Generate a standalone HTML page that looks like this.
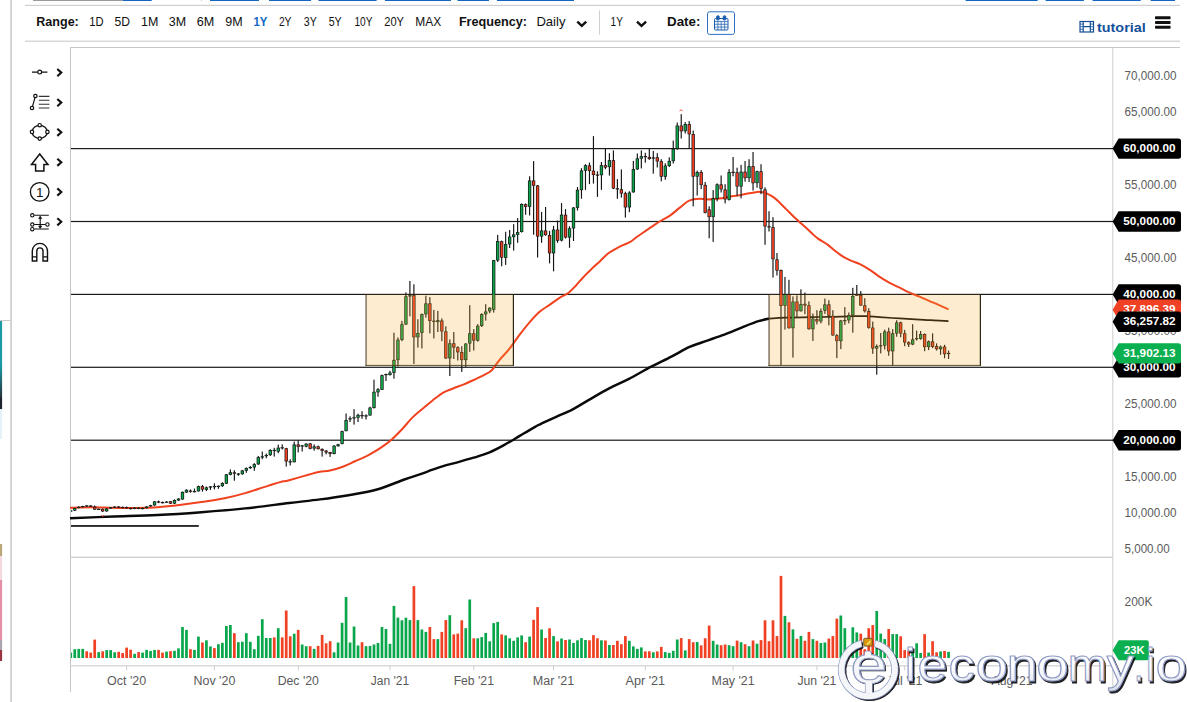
<!DOCTYPE html>
<html><head><meta charset="utf-8"><title>chart</title>
<style>
html,body{margin:0;padding:0;background:#fff;}
body{width:1187px;height:702px;overflow:hidden;position:relative;font-family:"Liberation Sans",sans-serif;}
svg{position:absolute;left:0;top:0;}
text{font-family:"Liberation Sans",sans-serif;}
</style></head><body>
<svg width="1187" height="702" viewBox="0 0 1187 702">
<defs>
<filter id="wsh" x="-5%" y="-20%" width="110%" height="140%"><feGaussianBlur stdDeviation="0.55"/></filter>
<linearGradient id="wg" x1="0" y1="0" x2="0" y2="1"><stop offset="0" stop-color="#ffffff"/><stop offset="0.55" stop-color="#fdfdff"/><stop offset="1" stop-color="#d9deea"/></linearGradient>
</defs>
<rect x="0" y="0" width="1187" height="702" fill="#ffffff"/>

<linearGradient id="lg1" x1="0" y1="0" x2="0" y2="1"><stop offset="0" stop-color="#1b9aa3"/><stop offset="1" stop-color="#27303c"/></linearGradient>
<rect x="0" y="321" width="2.1" height="46" fill="#1b9aa3"/>
<rect x="0" y="366" width="2.1" height="32" fill="url(#lg1)"/>
<rect x="0" y="398" width="2.1" height="11" fill="#1d232c"/>
<rect x="0" y="409" width="2.1" height="30" fill="#e4f1f7"/>
<rect x="0" y="320" width="10.5" height="1" fill="#c9c9c9"/>
<rect x="0" y="544" width="2.1" height="12" fill="#b9a77a"/>
<rect x="0" y="556" width="2.1" height="24" fill="#f3d9dd"/>
<rect x="0" y="580" width="2.1" height="60" fill="#e58da6"/>
<rect x="0" y="640" width="2.1" height="10" fill="#a9a4ad"/>
<rect x="0" y="650" width="2.1" height="11" fill="#9c3440"/>
<rect x="10.3" y="0" width="1.5" height="702" fill="#c6c6c6"/>
<rect x="33" y="0" width="90" height="1" fill="#9a9a9a"/>
<rect x="123" y="0" width="28.7" height="1" fill="#1565c0"/>
<rect x="210" y="0" width="49.0" height="1" fill="#1565c0"/>
<rect x="269" y="0" width="42.0" height="1" fill="#1565c0"/>
<rect x="318.5" y="0" width="58.1" height="1" fill="#1565c0"/>
<rect x="385" y="0" width="66.0" height="1" fill="#1565c0"/>
<rect x="457.5" y="0" width="31.5" height="1" fill="#1565c0"/>
<rect x="497" y="0" width="77.0" height="1" fill="#1565c0"/>
<rect x="965.6" y="0" width="72.0" height="1" fill="#1565c0"/>
<rect x="1045.6" y="0" width="38.3" height="1" fill="#1565c0"/>
<rect x="1092.6" y="0" width="48.1" height="1" fill="#1565c0"/>
<rect x="1150.7" y="0" width="24.3" height="1" fill="#1565c0"/>
<rect x="201" y="0" width="1" height="1" fill="#cccccc"/>
<rect x="25" y="4.8" width="1155" height="1.2" fill="#cfcfcf"/>
<rect x="25" y="40.6" width="1155" height="1.2" fill="#cfcfcf"/>
<text x="36.3" y="26.1" font-size="13" font-weight="bold" fill="#111" textLength="42.5" lengthAdjust="spacingAndGlyphs" text-anchor="start">Range:</text>
<text x="89.3" y="26.1" font-size="13" fill="#111" textLength="14.3" lengthAdjust="spacingAndGlyphs" text-anchor="start">1D</text>
<text x="114.5" y="26.1" font-size="13" fill="#111" textLength="15.5" lengthAdjust="spacingAndGlyphs" text-anchor="start">5D</text>
<text x="141.0" y="26.1" font-size="13" fill="#111" textLength="17.3" lengthAdjust="spacingAndGlyphs" text-anchor="start">1M</text>
<text x="168.8" y="26.1" font-size="13" fill="#111" textLength="17.3" lengthAdjust="spacingAndGlyphs" text-anchor="start">3M</text>
<text x="196.8" y="26.1" font-size="13" fill="#111" textLength="17.5" lengthAdjust="spacingAndGlyphs" text-anchor="start">6M</text>
<text x="225.2" y="26.1" font-size="13" fill="#111" textLength="17.4" lengthAdjust="spacingAndGlyphs" text-anchor="start">9M</text>
<text x="253.5" y="26.1" font-size="13" font-weight="bold" fill="#1467c4" textLength="13.9" lengthAdjust="spacingAndGlyphs" text-anchor="start">1Y</text>
<text x="278.9" y="26.1" font-size="13" fill="#111" textLength="12.6" lengthAdjust="spacingAndGlyphs" text-anchor="start">2Y</text>
<text x="303.8" y="26.1" font-size="13" fill="#111" textLength="13.0" lengthAdjust="spacingAndGlyphs" text-anchor="start">3Y</text>
<text x="328.7" y="26.1" font-size="13" fill="#111" textLength="13.0" lengthAdjust="spacingAndGlyphs" text-anchor="start">5Y</text>
<text x="354.4" y="26.1" font-size="13" fill="#111" textLength="18.0" lengthAdjust="spacingAndGlyphs" text-anchor="start">10Y</text>
<text x="384.2" y="26.1" font-size="13" fill="#111" textLength="19.8" lengthAdjust="spacingAndGlyphs" text-anchor="start">20Y</text>
<text x="415.3" y="26.1" font-size="13" fill="#111" textLength="25.8" lengthAdjust="spacingAndGlyphs" text-anchor="start">MAX</text>
<text x="458.9" y="26.1" font-size="13" font-weight="bold" fill="#111" textLength="68.2" lengthAdjust="spacingAndGlyphs" text-anchor="start">Frequency:</text>
<text x="536.4" y="26.1" font-size="13" fill="#111" textLength="29.1" lengthAdjust="spacingAndGlyphs" text-anchor="start">Daily</text>
<path d="M577.3 21.6 L581.8 25.9 L586.2 21.6" fill="none" stroke="#111" stroke-width="2.4" stroke-linecap="butt" stroke-linejoin="miter"/>
<rect x="599" y="10.4" width="1" height="24.3" fill="#cfcfcf"/>
<text x="610.6" y="26.1" font-size="13" fill="#111" textLength="12.3" lengthAdjust="spacingAndGlyphs" text-anchor="start">1Y</text>
<path d="M637.0 21.6 L641.5 25.9 L646.1 21.6" fill="none" stroke="#111" stroke-width="2.4" stroke-linecap="butt" stroke-linejoin="miter"/>
<text x="667.0" y="26.1" font-size="13" font-weight="bold" fill="#111" textLength="33.4" lengthAdjust="spacingAndGlyphs" text-anchor="start">Date:</text>
<rect x="707.5" y="11.8" width="27" height="22.6" rx="2" ry="2" fill="#fff" stroke="#2a6fc2" stroke-width="1"/>
<g stroke="#1d5fae" fill="none" stroke-width="1"><rect x="714.5" y="18.5" width="13.5" height="11.5" rx="1" fill="#eef3fa"/><path d="M714.5 21.5H728 M717.9 21.5V30 M721.2 21.5V30 M724.6 21.5V30 M714.5 24.3H728 M714.5 27.1H728" stroke-width="0.7"/><rect x="716.6" y="15.8" width="2.6" height="4.2" rx="1" fill="#1d5fae"/><rect x="723.2" y="15.8" width="2.6" height="4.2" rx="1" fill="#1d5fae"/></g>
<g stroke="#14509a" fill="none" stroke-width="1.2"><rect x="1080" y="21.5" width="13.5" height="10.5"/><path d="M1083.2 21.5V32 M1090.3 21.5V32 M1083.2 26.7H1090.3" /><path d="M1080 24.1H1083.2 M1080 26.7H1083.2 M1080 29.3H1083.2 M1090.3 24.1H1093.5 M1090.3 26.7H1093.5 M1090.3 29.3H1093.5" stroke-width="0.8"/></g>
<text x="1097.0" y="31.6" font-size="13.5" font-weight="bold" fill="#14509a" textLength="48.7" lengthAdjust="spacingAndGlyphs" text-anchor="start">tutorial</text>
<rect x="1155" y="16.2" width="15.6" height="3" rx="0.8" fill="#111"/>
<rect x="1155" y="21" width="15.6" height="3" rx="0.8" fill="#111"/>
<rect x="1155" y="25.8" width="15.6" height="3" rx="0.8" fill="#111"/>
<rect x="70" y="47" width="1110" height="1" fill="#c8c8c8"/>
<rect x="70" y="47" width="1" height="645" fill="#c4c4c4"/>
<rect x="1112.3" y="47" width="1" height="645" fill="#cccccc"/>
<rect x="70" y="556.6" width="1043" height="1.4" fill="#cfcfcf"/>
<rect x="70" y="665.2" width="1043" height="1.2" fill="#d0d0d0"/>
<rect x="126.1" y="666" width="1" height="4.5" fill="#cfcfcf"/>
<text x="126.6" y="685" font-size="12" fill="#5a5a5a" text-anchor="middle" textLength="39.2" lengthAdjust="spacingAndGlyphs">Oct '20</text>
<rect x="213.9" y="666" width="1" height="4.5" fill="#cfcfcf"/>
<text x="214.4" y="685" font-size="12" fill="#5a5a5a" text-anchor="middle" textLength="41.8" lengthAdjust="spacingAndGlyphs">Nov '20</text>
<rect x="297.8" y="666" width="1" height="4.5" fill="#cfcfcf"/>
<text x="298.3" y="685" font-size="12" fill="#5a5a5a" text-anchor="middle" textLength="41.3" lengthAdjust="spacingAndGlyphs">Dec '20</text>
<rect x="389.5" y="666" width="1" height="4.5" fill="#cfcfcf"/>
<text x="390.0" y="685" font-size="12" fill="#5a5a5a" text-anchor="middle" textLength="38.3" lengthAdjust="spacingAndGlyphs">Jan '21</text>
<rect x="473.3" y="666" width="1" height="4.5" fill="#cfcfcf"/>
<text x="473.8" y="685" font-size="12" fill="#5a5a5a" text-anchor="middle" textLength="40.3" lengthAdjust="spacingAndGlyphs">Feb '21</text>
<rect x="553.0" y="666" width="1" height="4.5" fill="#cfcfcf"/>
<text x="553.5" y="685" font-size="12" fill="#5a5a5a" text-anchor="middle" textLength="41.3" lengthAdjust="spacingAndGlyphs">Mar '21</text>
<rect x="644.8" y="666" width="1" height="4.5" fill="#cfcfcf"/>
<text x="645.3" y="685" font-size="12" fill="#5a5a5a" text-anchor="middle" textLength="39.6" lengthAdjust="spacingAndGlyphs">Apr '21</text>
<rect x="732.6" y="666" width="1" height="4.5" fill="#cfcfcf"/>
<text x="733.1" y="685" font-size="12" fill="#5a5a5a" text-anchor="middle" textLength="43" lengthAdjust="spacingAndGlyphs">May '21</text>
<rect x="816.4" y="666" width="1" height="4.5" fill="#cfcfcf"/>
<text x="816.9" y="685" font-size="12" fill="#5a5a5a" text-anchor="middle" textLength="39" lengthAdjust="spacingAndGlyphs">Jun '21</text>
<rect x="904.2" y="666" width="1" height="4.5" fill="#cfcfcf"/>
<text x="904.7" y="685" font-size="12" fill="#5a5a5a" text-anchor="middle" textLength="35.5" lengthAdjust="spacingAndGlyphs">Jul '21</text>
<rect x="1011.5" y="666" width="1" height="4.5" fill="#cfcfcf"/>
<text x="1012.0" y="685" font-size="12" fill="#5a5a5a" text-anchor="middle" textLength="41" lengthAdjust="spacingAndGlyphs">Aug '21</text>
<rect x="71" y="148.0" width="1042" height="1.2" fill="#1a1a1a"/>
<rect x="71" y="220.9" width="1042" height="1.2" fill="#1a1a1a"/>
<rect x="71" y="293.8" width="1042" height="1.2" fill="#1a1a1a"/>
<rect x="71" y="366.7" width="1042" height="1.2" fill="#1a1a1a"/>
<rect x="71" y="439.6" width="1042" height="1.2" fill="#1a1a1a"/>
<rect x="71" y="525.1" width="127.8" height="1.7" fill="#111"/>
<path d="M70.0 507.8 C73.7 507.7 84.6 507.3 91.9 507.3 C99.2 507.3 106.5 507.7 113.8 507.8 C121.1 507.9 128.4 508.1 135.7 508.0 C143.0 507.9 150.3 507.8 157.6 507.3 C164.9 506.8 172.2 506.0 179.5 505.1 C186.8 504.2 194.1 503.2 201.4 502.1 C208.7 501.0 216.0 500.1 223.3 498.6 C230.6 497.1 237.9 495.2 245.2 493.1 C252.5 491.0 261.3 487.9 267.2 486.1 C273.1 484.3 276.6 483.1 280.3 482.1 C284.0 481.1 284.0 481.6 289.1 480.2 C294.2 478.8 305.9 475.4 311.0 474.0 C316.1 472.6 316.8 472.4 320.0 471.8 C323.2 471.2 326.2 471.4 330.0 470.5 C333.8 469.6 338.5 468.3 342.8 466.7 C347.1 465.1 351.3 462.9 355.6 461.0 C359.9 459.1 364.2 457.4 368.5 455.1 C372.8 452.8 377.5 450.0 381.3 447.4 C385.1 444.8 388.1 442.7 391.5 439.7 C394.9 436.7 398.4 433.1 401.8 429.5 C405.2 425.9 408.7 421.3 412.1 417.9 C415.5 414.5 418.9 411.9 422.3 409.0 C425.7 406.1 429.2 403.2 432.6 400.5 C436.0 397.8 439.4 394.8 442.8 392.8 C446.2 390.8 449.7 389.9 453.1 388.5 C456.5 387.1 459.9 386.0 463.3 384.6 C466.7 383.2 470.2 381.6 473.6 380.0 C477.0 378.4 480.8 376.7 483.8 375.1 C486.8 373.5 488.9 373.0 491.5 370.5 C494.1 368.0 496.2 363.9 499.2 360.3 C502.2 356.7 506.1 353.0 509.5 348.7 C512.9 344.4 516.3 339.1 519.7 334.6 C523.1 330.1 526.6 325.6 530.0 321.8 C533.4 318.0 536.6 314.5 539.9 311.6 C543.2 308.7 546.6 306.9 549.9 304.6 C553.2 302.3 556.9 299.5 559.9 297.6 C562.9 295.7 565.2 295.3 567.9 293.3 C570.5 291.3 573.1 288.5 575.8 285.7 C578.4 282.9 581.1 279.5 583.8 276.7 C586.5 273.9 589.1 271.2 591.8 268.7 C594.5 266.1 597.1 263.9 599.8 261.4 C602.4 258.9 605.1 255.9 607.7 253.8 C610.4 251.7 613.0 250.3 615.7 248.8 C618.4 247.3 621.4 245.9 623.7 244.8 C626.0 243.7 627.7 243.4 629.7 242.2 C631.7 241.0 633.4 239.5 635.7 237.8 C638.0 236.1 641.0 234.0 643.6 232.2 C646.2 230.4 648.9 228.7 651.6 226.9 C654.3 225.1 656.6 223.3 659.6 221.5 C662.6 219.7 666.3 218.2 669.6 215.9 C672.9 213.6 676.5 210.3 679.5 207.9 C682.5 205.5 685.2 202.9 687.5 201.5 C689.8 200.1 691.4 199.8 693.5 199.3 C695.6 198.8 697.6 198.7 700.0 198.7 C702.4 198.7 705.4 199.5 708.0 199.5 C710.6 199.5 713.2 199.0 715.9 198.7 C718.5 198.4 721.2 198.3 723.9 197.9 C726.6 197.5 729.2 196.8 731.9 196.3 C734.6 195.9 737.2 195.6 739.9 195.2 C742.5 194.8 745.1 194.1 747.8 193.6 C750.4 193.1 753.7 192.6 755.8 192.3 C757.9 192.0 758.7 191.7 760.6 191.9 C762.5 192.1 764.9 192.7 767.0 193.6 C769.1 194.5 771.3 195.6 773.4 197.1 C775.5 198.6 777.6 200.7 779.7 202.7 C781.8 204.7 784.0 207.0 786.1 209.1 C788.2 211.2 790.4 213.4 792.5 215.5 C794.6 217.6 796.8 219.5 798.9 221.4 C801.0 223.3 803.2 225.2 805.3 227.1 C807.4 229.0 809.5 231.1 811.6 233.0 C813.7 234.9 815.3 236.7 818.0 238.6 C820.7 240.5 824.7 242.5 827.6 244.6 C830.5 246.7 833.0 249.2 835.6 251.3 C838.2 253.4 840.9 255.3 843.5 256.9 C846.1 258.5 848.8 259.7 851.5 260.9 C854.2 262.1 857.0 262.6 860.0 264.1 C863.0 265.6 866.5 267.7 869.8 269.8 C873.1 271.9 876.4 274.6 879.7 276.8 C883.0 279.0 886.4 281.0 889.7 282.8 C893.0 284.6 896.4 286.1 899.7 287.7 C903.0 289.3 906.3 291.2 909.6 292.7 C912.9 294.2 916.3 295.3 919.6 296.7 C922.9 298.1 926.3 299.7 929.6 301.1 C932.9 302.5 936.5 303.9 939.6 305.3 C942.8 306.7 947.0 308.6 948.5 309.3" fill="none" stroke="#f0421f" stroke-width="2.0" stroke-linejoin="round"/>
<clipPath id="cpa"><rect x="60" y="48" width="709.3" height="509"/></clipPath><clipPath id="cpb"><rect x="769.3" y="48" width="300" height="509"/></clipPath>
<path d="M70.0 518.3 C77.3 518.0 99.2 517.0 113.8 516.5 C128.4 516.0 143.0 515.7 157.6 515.0 C172.2 514.3 186.8 513.3 201.4 512.2 C216.0 511.1 230.6 509.9 245.2 508.4 C259.8 506.9 276.6 504.5 289.1 503.0 C301.6 501.5 310.1 500.7 320.0 499.4 C329.9 498.1 339.0 496.8 348.5 495.2 C358.0 493.6 367.7 492.1 377.0 489.5 C386.3 486.9 397.3 482.0 404.4 479.5 C411.5 477.0 415.0 476.0 419.7 474.4 C424.4 472.8 428.3 471.2 432.6 469.7 C436.9 468.2 441.1 466.7 445.4 465.4 C449.7 464.1 453.5 463.4 458.2 462.1 C462.9 460.8 468.5 459.3 473.6 457.7 C478.7 456.1 483.9 454.7 489.0 452.6 C494.1 450.5 499.3 447.7 504.4 444.9 C509.5 442.1 514.6 438.9 519.7 435.9 C524.8 432.9 531.7 428.8 535.1 426.9 C538.5 425.0 536.5 426.0 540.0 424.3 C543.5 422.6 550.8 419.3 556.2 416.9 C561.6 414.4 566.9 412.4 572.3 409.6 C577.7 406.8 582.4 403.6 588.5 400.1 C594.6 396.6 602.0 392.1 608.7 388.6 C615.5 385.1 621.9 382.5 629.0 378.9 C636.1 375.2 644.1 370.4 651.2 366.7 C658.3 363.0 665.0 359.9 671.4 356.6 C677.8 353.3 684.5 349.2 689.6 346.9 C694.7 344.5 696.3 344.4 701.7 342.5 C707.1 340.6 715.2 337.9 722.0 335.4 C728.8 332.9 736.1 329.7 742.2 327.3 C748.3 324.9 754.0 322.6 758.4 321.2 C762.8 319.8 764.9 319.4 768.5 318.8 C772.1 318.2 776.5 318.0 780.0 317.8 C783.5 317.6 784.5 317.7 789.5 317.6 C794.5 317.5 803.2 317.3 809.9 317.2 C816.6 317.1 823.2 316.9 829.9 316.8 C836.5 316.7 843.8 316.4 849.8 316.3 C855.8 316.2 860.8 316.0 865.8 316.1 C870.8 316.2 874.1 316.8 879.7 317.2 C885.4 317.6 893.1 318.0 899.7 318.4 C906.4 318.8 913.0 319.2 919.6 319.6 C926.2 320.0 934.8 320.3 939.6 320.6 C944.4 320.9 947.0 321.1 948.5 321.2" fill="none" stroke="#0a0a0a" stroke-width="2.45" stroke-linejoin="round" clip-path="url(#cpa)"/>
<path d="M70.0 518.3 C77.3 518.0 99.2 517.0 113.8 516.5 C128.4 516.0 143.0 515.7 157.6 515.0 C172.2 514.3 186.8 513.3 201.4 512.2 C216.0 511.1 230.6 509.9 245.2 508.4 C259.8 506.9 276.6 504.5 289.1 503.0 C301.6 501.5 310.1 500.7 320.0 499.4 C329.9 498.1 339.0 496.8 348.5 495.2 C358.0 493.6 367.7 492.1 377.0 489.5 C386.3 486.9 397.3 482.0 404.4 479.5 C411.5 477.0 415.0 476.0 419.7 474.4 C424.4 472.8 428.3 471.2 432.6 469.7 C436.9 468.2 441.1 466.7 445.4 465.4 C449.7 464.1 453.5 463.4 458.2 462.1 C462.9 460.8 468.5 459.3 473.6 457.7 C478.7 456.1 483.9 454.7 489.0 452.6 C494.1 450.5 499.3 447.7 504.4 444.9 C509.5 442.1 514.6 438.9 519.7 435.9 C524.8 432.9 531.7 428.8 535.1 426.9 C538.5 425.0 536.5 426.0 540.0 424.3 C543.5 422.6 550.8 419.3 556.2 416.9 C561.6 414.4 566.9 412.4 572.3 409.6 C577.7 406.8 582.4 403.6 588.5 400.1 C594.6 396.6 602.0 392.1 608.7 388.6 C615.5 385.1 621.9 382.5 629.0 378.9 C636.1 375.2 644.1 370.4 651.2 366.7 C658.3 363.0 665.0 359.9 671.4 356.6 C677.8 353.3 684.5 349.2 689.6 346.9 C694.7 344.5 696.3 344.4 701.7 342.5 C707.1 340.6 715.2 337.9 722.0 335.4 C728.8 332.9 736.1 329.7 742.2 327.3 C748.3 324.9 754.0 322.6 758.4 321.2 C762.8 319.8 764.9 319.4 768.5 318.8 C772.1 318.2 776.5 318.0 780.0 317.8 C783.5 317.6 784.5 317.7 789.5 317.6 C794.5 317.5 803.2 317.3 809.9 317.2 C816.6 317.1 823.2 316.9 829.9 316.8 C836.5 316.7 843.8 316.4 849.8 316.3 C855.8 316.2 860.8 316.0 865.8 316.1 C870.8 316.2 874.1 316.8 879.7 317.2 C885.4 317.6 893.1 318.0 899.7 318.4 C906.4 318.8 913.0 319.2 919.6 319.6 C926.2 320.0 934.8 320.3 939.6 320.6 C944.4 320.9 947.0 321.1 948.5 321.2" fill="none" stroke="#0a0a0a" stroke-width="1.7" stroke-linejoin="round" clip-path="url(#cpb)"/>
<g id="candles">
<clipPath id="cp"><rect x="71" y="48" width="1041" height="509"/></clipPath>
<g clip-path="url(#cp)">
<rect x="70.18" y="510.0" width="1.16" height="2.0" fill="#141414"/>
<rect x="69.11" y="510.4" width="3.3" height="1.2" fill="#111"/>
<rect x="69.96" y="510.8" width="1.6" height="0.4" fill="#0ea34a" opacity="0.6"/>
<rect x="74.17" y="507.8" width="1.16" height="3.2" fill="#141414"/>
<rect x="73.10" y="508.1" width="3.3" height="2.5" fill="#111"/>
<rect x="73.80" y="508.8" width="1.9" height="1.2" fill="#0ea34a"/>
<rect x="78.16" y="506.5" width="1.16" height="1.8" fill="#141414"/>
<rect x="77.09" y="506.8" width="3.3" height="1.2" fill="#111"/>
<rect x="77.94" y="507.2" width="1.6" height="0.4" fill="#0ea34a" opacity="0.6"/>
<rect x="82.15" y="505.8" width="1.16" height="1.7" fill="#141414"/>
<rect x="81.08" y="506.0" width="3.3" height="1.2" fill="#111"/>
<rect x="81.93" y="506.4" width="1.6" height="0.4" fill="#0ea34a" opacity="0.6"/>
<rect x="86.14" y="505.2" width="1.16" height="1.8" fill="#141414"/>
<rect x="85.07" y="505.4" width="3.3" height="1.2" fill="#111"/>
<rect x="85.92" y="505.8" width="1.6" height="0.4" fill="#0ea34a" opacity="0.6"/>
<rect x="90.13" y="505.2" width="1.16" height="1.8" fill="#141414"/>
<rect x="89.06" y="505.5" width="3.3" height="1.2" fill="#111"/>
<rect x="89.91" y="505.9" width="1.6" height="0.4" fill="#ee3f22" opacity="0.6"/>
<rect x="94.12" y="505.5" width="1.16" height="4.5" fill="#141414"/>
<rect x="93.05" y="506.7" width="3.3" height="2.9" fill="#111"/>
<rect x="93.75" y="507.4" width="1.9" height="1.6" fill="#ee3f22"/>
<rect x="98.11" y="508.5" width="1.16" height="1.5" fill="#141414"/>
<rect x="97.04" y="508.8" width="3.3" height="1.2" fill="#111"/>
<rect x="97.89" y="509.2" width="1.6" height="0.4" fill="#0ea34a" opacity="0.6"/>
<rect x="102.10" y="508.5" width="1.16" height="3.5" fill="#141414"/>
<rect x="101.03" y="508.9" width="3.3" height="2.5" fill="#111"/>
<rect x="101.73" y="509.6" width="1.9" height="1.2" fill="#ee3f22"/>
<rect x="106.09" y="508.0" width="1.16" height="3.8" fill="#141414"/>
<rect x="105.02" y="508.5" width="3.3" height="2.8" fill="#111"/>
<rect x="105.72" y="509.2" width="1.9" height="1.5" fill="#0ea34a"/>
<rect x="110.08" y="507.0" width="1.16" height="1.8" fill="#141414"/>
<rect x="109.01" y="507.3" width="3.3" height="1.2" fill="#111"/>
<rect x="109.86" y="507.7" width="1.6" height="0.4" fill="#0ea34a" opacity="0.6"/>
<rect x="114.07" y="506.3" width="1.16" height="1.7" fill="#141414"/>
<rect x="113.00" y="506.6" width="3.3" height="1.2" fill="#111"/>
<rect x="113.85" y="507.0" width="1.6" height="0.4" fill="#0ea34a" opacity="0.6"/>
<rect x="118.06" y="506.2" width="1.16" height="1.8" fill="#141414"/>
<rect x="116.99" y="506.5" width="3.3" height="1.2" fill="#111"/>
<rect x="117.84" y="506.9" width="1.6" height="0.4" fill="#ee3f22" opacity="0.6"/>
<rect x="122.05" y="506.5" width="1.16" height="1.8" fill="#141414"/>
<rect x="120.98" y="506.9" width="3.3" height="1.2" fill="#111"/>
<rect x="121.83" y="507.3" width="1.6" height="0.4" fill="#ee3f22" opacity="0.6"/>
<rect x="126.04" y="506.5" width="1.16" height="2.3" fill="#141414"/>
<rect x="124.97" y="507.1" width="3.3" height="1.2" fill="#111"/>
<rect x="125.82" y="507.5" width="1.6" height="0.4" fill="#ee3f22" opacity="0.6"/>
<rect x="130.03" y="507.5" width="1.16" height="2.0" fill="#141414"/>
<rect x="128.96" y="507.9" width="3.3" height="1.2" fill="#111"/>
<rect x="129.81" y="508.3" width="1.6" height="0.4" fill="#ee3f22" opacity="0.6"/>
<rect x="134.02" y="507.3" width="1.16" height="1.9" fill="#141414"/>
<rect x="132.95" y="507.7" width="3.3" height="1.2" fill="#111"/>
<rect x="133.80" y="508.1" width="1.6" height="0.4" fill="#0ea34a" opacity="0.6"/>
<rect x="138.01" y="507.3" width="1.16" height="1.9" fill="#141414"/>
<rect x="136.94" y="507.7" width="3.3" height="1.2" fill="#111"/>
<rect x="137.79" y="508.1" width="1.6" height="0.4" fill="#ee3f22" opacity="0.6"/>
<rect x="142.00" y="507.6" width="1.16" height="1.8" fill="#141414"/>
<rect x="140.93" y="507.9" width="3.3" height="1.2" fill="#111"/>
<rect x="141.78" y="508.3" width="1.6" height="0.4" fill="#0ea34a" opacity="0.6"/>
<rect x="145.99" y="506.2" width="1.16" height="2.3" fill="#141414"/>
<rect x="144.92" y="506.5" width="3.3" height="1.7" fill="#111"/>
<rect x="145.77" y="506.9" width="1.6" height="0.9" fill="#0ea34a" opacity="0.6"/>
<rect x="149.98" y="504.8" width="1.16" height="2.0" fill="#141414"/>
<rect x="148.91" y="505.1" width="3.3" height="1.3" fill="#111"/>
<rect x="149.76" y="505.5" width="1.6" height="0.5" fill="#0ea34a" opacity="0.6"/>
<rect x="153.97" y="501.0" width="1.16" height="4.8" fill="#141414"/>
<rect x="152.90" y="501.4" width="3.3" height="4.0" fill="#111"/>
<rect x="153.60" y="502.1" width="1.9" height="2.7" fill="#0ea34a"/>
<rect x="157.96" y="500.6" width="1.16" height="2.6" fill="#141414"/>
<rect x="156.89" y="501.4" width="3.3" height="1.2" fill="#111"/>
<rect x="157.74" y="501.8" width="1.6" height="0.4" fill="#ee3f22" opacity="0.6"/>
<rect x="161.95" y="501.5" width="1.16" height="2.0" fill="#141414"/>
<rect x="160.88" y="502.0" width="3.3" height="1.2" fill="#111"/>
<rect x="161.73" y="502.4" width="1.6" height="0.4" fill="#ee3f22" opacity="0.6"/>
<rect x="165.94" y="501.2" width="1.16" height="1.8" fill="#141414"/>
<rect x="164.87" y="501.6" width="3.3" height="1.2" fill="#111"/>
<rect x="165.72" y="502.0" width="1.6" height="0.4" fill="#0ea34a" opacity="0.6"/>
<rect x="169.93" y="501.0" width="1.16" height="3.0" fill="#141414"/>
<rect x="168.86" y="501.3" width="3.3" height="2.3" fill="#111"/>
<rect x="169.56" y="501.9" width="1.9" height="1.0" fill="#ee3f22"/>
<rect x="173.92" y="499.3" width="1.16" height="4.7" fill="#141414"/>
<rect x="172.85" y="500.0" width="3.3" height="3.6" fill="#111"/>
<rect x="173.55" y="500.7" width="1.9" height="2.3" fill="#0ea34a"/>
<rect x="177.91" y="498.2" width="1.16" height="2.7" fill="#141414"/>
<rect x="176.84" y="498.6" width="3.3" height="1.9" fill="#111"/>
<rect x="177.54" y="499.2" width="1.9" height="0.6" fill="#0ea34a"/>
<rect x="181.90" y="491.5" width="1.16" height="8.3" fill="#141414"/>
<rect x="180.83" y="491.9" width="3.3" height="7.5" fill="#111"/>
<rect x="181.53" y="492.6" width="1.9" height="6.2" fill="#0ea34a"/>
<rect x="185.89" y="489.3" width="1.16" height="3.6" fill="#141414"/>
<rect x="184.82" y="489.8" width="3.3" height="2.7" fill="#111"/>
<rect x="185.52" y="490.4" width="1.9" height="1.4" fill="#0ea34a"/>
<rect x="189.88" y="489.4" width="1.16" height="3.3" fill="#141414"/>
<rect x="188.81" y="490.6" width="3.3" height="1.2" fill="#111"/>
<rect x="189.66" y="491.0" width="1.6" height="0.4" fill="#ee3f22" opacity="0.6"/>
<rect x="193.87" y="488.6" width="1.16" height="3.8" fill="#141414"/>
<rect x="192.80" y="491.0" width="3.3" height="1.2" fill="#111"/>
<rect x="193.65" y="491.4" width="1.6" height="0.4" fill="#0ea34a" opacity="0.6"/>
<rect x="197.86" y="485.6" width="1.16" height="6.0" fill="#141414"/>
<rect x="196.79" y="486.2" width="3.3" height="5.1" fill="#111"/>
<rect x="197.49" y="486.9" width="1.9" height="3.8" fill="#0ea34a"/>
<rect x="201.85" y="485.0" width="1.16" height="6.6" fill="#141414"/>
<rect x="200.78" y="486.2" width="3.3" height="3.3" fill="#111"/>
<rect x="201.48" y="486.9" width="1.9" height="2.0" fill="#ee3f22"/>
<rect x="205.84" y="486.5" width="1.16" height="4.5" fill="#141414"/>
<rect x="204.77" y="487.4" width="3.3" height="2.4" fill="#111"/>
<rect x="205.47" y="488.1" width="1.9" height="1.1" fill="#0ea34a"/>
<rect x="209.83" y="486.0" width="1.16" height="3.9" fill="#141414"/>
<rect x="208.76" y="486.4" width="3.3" height="1.2" fill="#111"/>
<rect x="209.61" y="486.8" width="1.6" height="0.4" fill="#0ea34a" opacity="0.6"/>
<rect x="213.82" y="483.3" width="1.16" height="6.1" fill="#141414"/>
<rect x="212.75" y="486.0" width="3.3" height="1.2" fill="#111"/>
<rect x="213.60" y="486.4" width="1.6" height="0.4" fill="#0ea34a" opacity="0.6"/>
<rect x="217.81" y="485.4" width="1.16" height="3.4" fill="#141414"/>
<rect x="216.74" y="485.8" width="3.3" height="1.2" fill="#111"/>
<rect x="217.59" y="486.2" width="1.6" height="0.4" fill="#0ea34a" opacity="0.6"/>
<rect x="221.80" y="482.2" width="1.16" height="4.7" fill="#141414"/>
<rect x="220.73" y="483.1" width="3.3" height="3.0" fill="#111"/>
<rect x="221.43" y="483.8" width="1.9" height="1.7" fill="#0ea34a"/>
<rect x="225.79" y="474.0" width="1.16" height="10.0" fill="#141414"/>
<rect x="224.72" y="474.4" width="3.3" height="9.2" fill="#111"/>
<rect x="225.42" y="475.1" width="1.9" height="7.9" fill="#0ea34a"/>
<rect x="229.78" y="469.4" width="1.16" height="5.9" fill="#141414"/>
<rect x="228.71" y="472.3" width="3.3" height="2.5" fill="#111"/>
<rect x="229.41" y="472.9" width="1.9" height="1.2" fill="#0ea34a"/>
<rect x="233.77" y="470.2" width="1.16" height="10.5" fill="#141414"/>
<rect x="232.70" y="472.3" width="3.3" height="1.4" fill="#111"/>
<rect x="233.55" y="472.7" width="1.6" height="0.6" fill="#ee3f22" opacity="0.6"/>
<rect x="237.76" y="473.2" width="1.16" height="2.6" fill="#141414"/>
<rect x="236.69" y="473.5" width="3.3" height="1.2" fill="#111"/>
<rect x="237.54" y="473.9" width="1.6" height="0.4" fill="#0ea34a" opacity="0.6"/>
<rect x="241.75" y="469.8" width="1.16" height="4.9" fill="#141414"/>
<rect x="240.68" y="470.5" width="3.3" height="3.7" fill="#111"/>
<rect x="241.38" y="471.2" width="1.9" height="2.4" fill="#0ea34a"/>
<rect x="245.74" y="467.4" width="1.16" height="5.4" fill="#141414"/>
<rect x="244.67" y="468.1" width="3.3" height="2.6" fill="#111"/>
<rect x="245.37" y="468.8" width="1.9" height="1.3" fill="#0ea34a"/>
<rect x="249.73" y="465.9" width="1.16" height="3.0" fill="#141414"/>
<rect x="248.66" y="467.0" width="3.3" height="1.2" fill="#111"/>
<rect x="249.51" y="467.4" width="1.6" height="0.4" fill="#0ea34a" opacity="0.6"/>
<rect x="253.72" y="463.1" width="1.16" height="7.7" fill="#141414"/>
<rect x="252.65" y="464.2" width="3.3" height="3.2" fill="#111"/>
<rect x="253.35" y="464.9" width="1.9" height="1.9" fill="#0ea34a"/>
<rect x="257.71" y="456.0" width="1.16" height="8.9" fill="#141414"/>
<rect x="256.64" y="457.2" width="3.3" height="7.1" fill="#111"/>
<rect x="257.34" y="457.9" width="1.9" height="5.8" fill="#0ea34a"/>
<rect x="261.70" y="451.5" width="1.16" height="7.7" fill="#141414"/>
<rect x="260.63" y="456.3" width="3.3" height="1.2" fill="#111"/>
<rect x="261.48" y="456.7" width="1.6" height="0.4" fill="#0ea34a" opacity="0.6"/>
<rect x="265.69" y="453.5" width="1.16" height="4.8" fill="#141414"/>
<rect x="264.62" y="455.0" width="3.3" height="1.2" fill="#111"/>
<rect x="265.47" y="455.4" width="1.6" height="0.4" fill="#0ea34a" opacity="0.6"/>
<rect x="269.68" y="449.2" width="1.16" height="6.8" fill="#141414"/>
<rect x="268.61" y="450.0" width="3.3" height="5.1" fill="#111"/>
<rect x="269.31" y="450.7" width="1.9" height="3.8" fill="#0ea34a"/>
<rect x="273.67" y="447.8" width="1.16" height="8.8" fill="#141414"/>
<rect x="272.60" y="449.9" width="3.3" height="1.2" fill="#111"/>
<rect x="273.45" y="450.3" width="1.6" height="0.4" fill="#0ea34a" opacity="0.6"/>
<rect x="277.66" y="444.6" width="1.16" height="8.7" fill="#141414"/>
<rect x="276.59" y="447.7" width="3.3" height="3.9" fill="#111"/>
<rect x="277.29" y="448.4" width="1.9" height="2.6" fill="#0ea34a"/>
<rect x="281.65" y="444.4" width="1.16" height="5.1" fill="#141414"/>
<rect x="280.58" y="447.2" width="3.3" height="1.2" fill="#111"/>
<rect x="281.43" y="447.6" width="1.6" height="0.4" fill="#0ea34a" opacity="0.6"/>
<rect x="285.64" y="447.8" width="1.16" height="18.8" fill="#141414"/>
<rect x="284.57" y="448.3" width="3.3" height="13.1" fill="#111"/>
<rect x="285.27" y="448.9" width="1.9" height="11.8" fill="#ee3f22"/>
<rect x="289.63" y="459.2" width="1.16" height="6.3" fill="#141414"/>
<rect x="288.56" y="461.2" width="3.3" height="1.2" fill="#111"/>
<rect x="289.41" y="461.6" width="1.6" height="0.4" fill="#0ea34a" opacity="0.6"/>
<rect x="293.62" y="441.6" width="1.16" height="20.8" fill="#141414"/>
<rect x="292.55" y="444.5" width="3.3" height="17.7" fill="#111"/>
<rect x="293.25" y="445.2" width="1.9" height="16.4" fill="#0ea34a"/>
<rect x="297.61" y="440.4" width="1.16" height="12.0" fill="#141414"/>
<rect x="296.54" y="444.5" width="3.3" height="2.3" fill="#111"/>
<rect x="297.24" y="445.2" width="1.9" height="1.0" fill="#ee3f22"/>
<rect x="301.60" y="445.0" width="1.16" height="6.5" fill="#141414"/>
<rect x="300.53" y="445.3" width="3.3" height="1.2" fill="#111"/>
<rect x="301.38" y="445.7" width="1.6" height="0.4" fill="#0ea34a" opacity="0.6"/>
<rect x="305.59" y="443.3" width="1.16" height="4.0" fill="#141414"/>
<rect x="304.52" y="443.7" width="3.3" height="2.9" fill="#111"/>
<rect x="305.22" y="444.4" width="1.9" height="1.6" fill="#0ea34a"/>
<rect x="309.58" y="443.0" width="1.16" height="6.3" fill="#141414"/>
<rect x="308.51" y="443.5" width="3.3" height="5.3" fill="#111"/>
<rect x="309.21" y="444.2" width="1.9" height="4.0" fill="#ee3f22"/>
<rect x="313.57" y="444.4" width="1.16" height="6.3" fill="#141414"/>
<rect x="312.50" y="446.4" width="3.3" height="2.1" fill="#111"/>
<rect x="313.20" y="447.1" width="1.9" height="0.8" fill="#0ea34a"/>
<rect x="317.56" y="445.6" width="1.16" height="3.9" fill="#141414"/>
<rect x="316.49" y="446.4" width="3.3" height="2.7" fill="#111"/>
<rect x="317.19" y="447.1" width="1.9" height="1.4" fill="#ee3f22"/>
<rect x="321.55" y="448.4" width="1.16" height="8.2" fill="#141414"/>
<rect x="320.48" y="448.9" width="3.3" height="1.9" fill="#111"/>
<rect x="321.18" y="449.6" width="1.9" height="0.6" fill="#ee3f22"/>
<rect x="325.54" y="450.1" width="1.16" height="4.3" fill="#141414"/>
<rect x="324.47" y="450.6" width="3.3" height="1.9" fill="#111"/>
<rect x="325.17" y="451.2" width="1.9" height="0.6" fill="#ee3f22"/>
<rect x="329.53" y="451.8" width="1.16" height="5.1" fill="#141414"/>
<rect x="328.46" y="452.1" width="3.3" height="1.8" fill="#111"/>
<rect x="329.16" y="452.8" width="1.9" height="0.5" fill="#ee3f22"/>
<rect x="333.52" y="445.0" width="1.16" height="9.4" fill="#141414"/>
<rect x="332.45" y="445.8" width="3.3" height="8.2" fill="#111"/>
<rect x="333.15" y="446.4" width="1.9" height="6.9" fill="#0ea34a"/>
<rect x="337.51" y="443.8" width="1.16" height="2.9" fill="#141414"/>
<rect x="336.44" y="444.3" width="3.3" height="1.9" fill="#111"/>
<rect x="337.14" y="444.9" width="1.9" height="0.6" fill="#0ea34a"/>
<rect x="341.50" y="430.7" width="1.16" height="13.7" fill="#141414"/>
<rect x="340.43" y="431.2" width="3.3" height="12.7" fill="#111"/>
<rect x="341.13" y="431.9" width="1.9" height="11.4" fill="#0ea34a"/>
<rect x="345.49" y="413.5" width="1.16" height="17.8" fill="#141414"/>
<rect x="344.42" y="420.1" width="3.3" height="11.0" fill="#111"/>
<rect x="345.12" y="420.8" width="1.9" height="9.7" fill="#0ea34a"/>
<rect x="349.48" y="416.3" width="1.16" height="5.7" fill="#141414"/>
<rect x="348.41" y="418.2" width="3.3" height="1.2" fill="#111"/>
<rect x="349.26" y="418.6" width="1.6" height="0.4" fill="#0ea34a" opacity="0.6"/>
<rect x="353.47" y="409.2" width="1.16" height="15.4" fill="#141414"/>
<rect x="352.40" y="417.2" width="3.3" height="1.2" fill="#111"/>
<rect x="353.25" y="417.6" width="1.6" height="0.4" fill="#0ea34a" opacity="0.6"/>
<rect x="357.46" y="413.7" width="1.16" height="8.3" fill="#141414"/>
<rect x="356.39" y="414.9" width="3.3" height="2.8" fill="#111"/>
<rect x="357.09" y="415.6" width="1.9" height="1.5" fill="#0ea34a"/>
<rect x="361.45" y="411.2" width="1.16" height="7.6" fill="#141414"/>
<rect x="360.38" y="415.0" width="3.3" height="1.2" fill="#111"/>
<rect x="361.23" y="415.4" width="1.6" height="0.4" fill="#ee3f22" opacity="0.6"/>
<rect x="365.44" y="414.4" width="1.16" height="5.1" fill="#141414"/>
<rect x="364.37" y="415.3" width="3.3" height="1.2" fill="#111"/>
<rect x="365.22" y="415.7" width="1.6" height="0.4" fill="#0ea34a" opacity="0.6"/>
<rect x="369.43" y="406.7" width="1.16" height="8.9" fill="#141414"/>
<rect x="368.36" y="407.6" width="3.3" height="7.9" fill="#111"/>
<rect x="369.06" y="408.2" width="1.9" height="6.6" fill="#0ea34a"/>
<rect x="373.42" y="379.7" width="1.16" height="28.9" fill="#141414"/>
<rect x="372.35" y="391.8" width="3.3" height="16.2" fill="#111"/>
<rect x="373.05" y="392.4" width="1.9" height="14.9" fill="#0ea34a"/>
<rect x="377.41" y="388.1" width="1.16" height="8.6" fill="#141414"/>
<rect x="376.34" y="389.3" width="3.3" height="3.0" fill="#111"/>
<rect x="377.04" y="389.9" width="1.9" height="1.7" fill="#0ea34a"/>
<rect x="381.40" y="374.6" width="1.16" height="15.4" fill="#141414"/>
<rect x="380.33" y="375.2" width="3.3" height="14.6" fill="#111"/>
<rect x="381.03" y="375.9" width="1.9" height="13.3" fill="#0ea34a"/>
<rect x="385.39" y="373.6" width="1.16" height="7.4" fill="#141414"/>
<rect x="384.32" y="374.0" width="3.3" height="1.2" fill="#111"/>
<rect x="385.17" y="374.4" width="1.6" height="0.4" fill="#0ea34a" opacity="0.6"/>
<rect x="389.38" y="370.8" width="1.16" height="4.8" fill="#141414"/>
<rect x="388.31" y="372.6" width="3.3" height="2.4" fill="#111"/>
<rect x="389.01" y="373.2" width="1.9" height="1.1" fill="#0ea34a"/>
<rect x="393.37" y="332.7" width="1.16" height="46.0" fill="#141414"/>
<rect x="392.30" y="359.9" width="3.3" height="12.9" fill="#111"/>
<rect x="393.00" y="360.6" width="1.9" height="11.6" fill="#0ea34a"/>
<rect x="397.36" y="337.4" width="1.16" height="29.1" fill="#141414"/>
<rect x="396.29" y="339.7" width="3.3" height="20.4" fill="#111"/>
<rect x="396.99" y="340.4" width="1.9" height="19.1" fill="#0ea34a"/>
<rect x="401.35" y="320.9" width="1.16" height="20.3" fill="#141414"/>
<rect x="400.28" y="324.3" width="3.3" height="15.6" fill="#111"/>
<rect x="400.98" y="324.9" width="1.9" height="14.3" fill="#0ea34a"/>
<rect x="405.34" y="292.4" width="1.16" height="32.5" fill="#141414"/>
<rect x="404.27" y="296.3" width="3.3" height="28.2" fill="#111"/>
<rect x="404.97" y="296.9" width="1.9" height="26.9" fill="#0ea34a"/>
<rect x="409.33" y="281.0" width="1.16" height="35.3" fill="#141414"/>
<rect x="408.26" y="295.1" width="3.3" height="1.4" fill="#111"/>
<rect x="409.11" y="295.5" width="1.6" height="0.6" fill="#0ea34a" opacity="0.6"/>
<rect x="413.32" y="284.3" width="1.16" height="79.7" fill="#141414"/>
<rect x="412.25" y="295.1" width="3.3" height="42.2" fill="#111"/>
<rect x="412.95" y="295.8" width="1.9" height="40.9" fill="#ee3f22"/>
<rect x="417.31" y="319.2" width="1.16" height="28.4" fill="#141414"/>
<rect x="416.24" y="333.0" width="3.3" height="4.3" fill="#111"/>
<rect x="416.94" y="333.7" width="1.9" height="3.0" fill="#0ea34a"/>
<rect x="421.30" y="313.5" width="1.16" height="34.9" fill="#141414"/>
<rect x="420.23" y="314.1" width="3.3" height="18.7" fill="#111"/>
<rect x="420.93" y="314.8" width="1.9" height="17.4" fill="#0ea34a"/>
<rect x="425.29" y="295.7" width="1.16" height="22.0" fill="#141414"/>
<rect x="424.22" y="303.4" width="3.3" height="10.9" fill="#111"/>
<rect x="424.92" y="304.1" width="1.9" height="9.6" fill="#0ea34a"/>
<rect x="429.28" y="297.1" width="1.16" height="36.3" fill="#141414"/>
<rect x="428.21" y="303.4" width="3.3" height="17.6" fill="#111"/>
<rect x="428.91" y="304.1" width="1.9" height="16.3" fill="#ee3f22"/>
<rect x="433.27" y="309.9" width="1.16" height="28.5" fill="#141414"/>
<rect x="432.20" y="320.7" width="3.3" height="1.2" fill="#111"/>
<rect x="433.05" y="321.1" width="1.6" height="0.4" fill="#ee3f22" opacity="0.6"/>
<rect x="437.26" y="310.9" width="1.16" height="21.1" fill="#141414"/>
<rect x="436.19" y="320.2" width="3.3" height="1.9" fill="#111"/>
<rect x="436.89" y="320.9" width="1.9" height="0.6" fill="#0ea34a"/>
<rect x="441.25" y="318.4" width="1.16" height="22.8" fill="#141414"/>
<rect x="440.18" y="320.5" width="3.3" height="10.9" fill="#111"/>
<rect x="440.88" y="321.2" width="1.9" height="9.6" fill="#ee3f22"/>
<rect x="445.24" y="326.3" width="1.16" height="32.7" fill="#141414"/>
<rect x="444.17" y="331.4" width="3.3" height="27.0" fill="#111"/>
<rect x="444.87" y="332.1" width="1.9" height="25.7" fill="#ee3f22"/>
<rect x="449.23" y="339.4" width="1.16" height="36.6" fill="#141414"/>
<rect x="448.16" y="343.3" width="3.3" height="15.1" fill="#111"/>
<rect x="448.86" y="343.9" width="1.9" height="13.8" fill="#0ea34a"/>
<rect x="453.22" y="332.0" width="1.16" height="27.0" fill="#141414"/>
<rect x="452.15" y="343.3" width="3.3" height="4.2" fill="#111"/>
<rect x="452.85" y="343.9" width="1.9" height="2.9" fill="#ee3f22"/>
<rect x="457.21" y="346.2" width="1.16" height="14.3" fill="#141414"/>
<rect x="456.14" y="347.3" width="3.3" height="5.0" fill="#111"/>
<rect x="456.84" y="347.9" width="1.9" height="3.7" fill="#ee3f22"/>
<rect x="461.20" y="346.2" width="1.16" height="25.7" fill="#141414"/>
<rect x="460.13" y="352.1" width="3.3" height="8.0" fill="#111"/>
<rect x="460.83" y="352.8" width="1.9" height="6.7" fill="#ee3f22"/>
<rect x="465.19" y="343.1" width="1.16" height="23.8" fill="#141414"/>
<rect x="464.12" y="343.6" width="3.3" height="16.5" fill="#111"/>
<rect x="464.82" y="344.2" width="1.9" height="15.2" fill="#0ea34a"/>
<rect x="469.18" y="305.2" width="1.16" height="46.7" fill="#141414"/>
<rect x="468.11" y="333.3" width="3.3" height="10.2" fill="#111"/>
<rect x="468.81" y="333.9" width="1.9" height="8.9" fill="#0ea34a"/>
<rect x="473.17" y="329.1" width="1.16" height="21.4" fill="#141414"/>
<rect x="472.10" y="333.3" width="3.3" height="7.3" fill="#111"/>
<rect x="472.80" y="333.9" width="1.9" height="6.0" fill="#ee3f22"/>
<rect x="477.16" y="324.1" width="1.16" height="17.6" fill="#141414"/>
<rect x="476.09" y="325.8" width="3.3" height="14.8" fill="#111"/>
<rect x="476.79" y="326.4" width="1.9" height="13.5" fill="#0ea34a"/>
<rect x="481.15" y="313.2" width="1.16" height="13.8" fill="#141414"/>
<rect x="480.08" y="314.1" width="3.3" height="11.9" fill="#111"/>
<rect x="480.78" y="314.8" width="1.9" height="10.6" fill="#0ea34a"/>
<rect x="485.14" y="304.2" width="1.16" height="16.4" fill="#141414"/>
<rect x="484.07" y="311.5" width="3.3" height="2.8" fill="#111"/>
<rect x="484.77" y="312.2" width="1.9" height="1.5" fill="#0ea34a"/>
<rect x="489.13" y="307.3" width="1.16" height="6.0" fill="#141414"/>
<rect x="488.06" y="307.7" width="3.3" height="3.6" fill="#111"/>
<rect x="488.76" y="308.4" width="1.9" height="2.3" fill="#0ea34a"/>
<rect x="493.12" y="259.9" width="1.16" height="52.7" fill="#141414"/>
<rect x="492.05" y="260.2" width="3.3" height="49.6" fill="#111"/>
<rect x="492.75" y="260.9" width="1.9" height="48.3" fill="#0ea34a"/>
<rect x="497.11" y="234.9" width="1.16" height="27.1" fill="#141414"/>
<rect x="496.04" y="241.0" width="3.3" height="19.4" fill="#111"/>
<rect x="496.74" y="241.7" width="1.9" height="18.1" fill="#0ea34a"/>
<rect x="501.10" y="240.6" width="1.16" height="25.7" fill="#141414"/>
<rect x="500.03" y="241.3" width="3.3" height="16.3" fill="#111"/>
<rect x="500.73" y="242.0" width="1.9" height="15.0" fill="#ee3f22"/>
<rect x="505.09" y="231.8" width="1.16" height="33.1" fill="#141414"/>
<rect x="504.02" y="244.1" width="3.3" height="13.7" fill="#111"/>
<rect x="504.72" y="244.8" width="1.9" height="12.4" fill="#0ea34a"/>
<rect x="509.08" y="230.0" width="1.16" height="18.0" fill="#141414"/>
<rect x="508.01" y="236.6" width="3.3" height="7.7" fill="#111"/>
<rect x="508.71" y="237.2" width="1.9" height="6.4" fill="#0ea34a"/>
<rect x="513.07" y="224.2" width="1.16" height="26.4" fill="#141414"/>
<rect x="512.00" y="234.4" width="3.3" height="2.7" fill="#111"/>
<rect x="512.70" y="235.1" width="1.9" height="1.4" fill="#0ea34a"/>
<rect x="517.06" y="218.1" width="1.16" height="24.7" fill="#141414"/>
<rect x="515.99" y="232.1" width="3.3" height="2.7" fill="#111"/>
<rect x="516.69" y="232.8" width="1.9" height="1.4" fill="#0ea34a"/>
<rect x="521.05" y="203.4" width="1.16" height="29.2" fill="#141414"/>
<rect x="519.98" y="204.0" width="3.3" height="28.0" fill="#111"/>
<rect x="520.68" y="204.7" width="1.9" height="26.7" fill="#0ea34a"/>
<rect x="525.04" y="203.4" width="1.16" height="11.4" fill="#141414"/>
<rect x="523.97" y="204.3" width="3.3" height="2.5" fill="#111"/>
<rect x="524.67" y="205.0" width="1.9" height="1.2" fill="#ee3f22"/>
<rect x="529.03" y="176.3" width="1.16" height="39.2" fill="#141414"/>
<rect x="527.96" y="180.5" width="3.3" height="26.3" fill="#111"/>
<rect x="528.66" y="181.2" width="1.9" height="25.0" fill="#0ea34a"/>
<rect x="533.02" y="161.1" width="1.16" height="73.6" fill="#141414"/>
<rect x="531.95" y="180.5" width="3.3" height="5.2" fill="#111"/>
<rect x="532.65" y="181.2" width="1.9" height="3.9" fill="#ee3f22"/>
<rect x="537.01" y="185.0" width="1.16" height="72.5" fill="#141414"/>
<rect x="535.94" y="185.5" width="3.3" height="51.0" fill="#111"/>
<rect x="536.64" y="186.2" width="1.9" height="49.7" fill="#ee3f22"/>
<rect x="541.00" y="211.9" width="1.16" height="30.9" fill="#141414"/>
<rect x="539.93" y="230.5" width="3.3" height="6.0" fill="#111"/>
<rect x="540.63" y="231.2" width="1.9" height="4.7" fill="#0ea34a"/>
<rect x="544.99" y="207.0" width="1.16" height="28.7" fill="#141414"/>
<rect x="543.92" y="230.5" width="3.3" height="4.6" fill="#111"/>
<rect x="544.62" y="231.2" width="1.9" height="3.3" fill="#ee3f22"/>
<rect x="548.98" y="230.9" width="1.16" height="32.5" fill="#141414"/>
<rect x="547.91" y="235.1" width="3.3" height="18.2" fill="#111"/>
<rect x="548.61" y="235.8" width="1.9" height="16.9" fill="#ee3f22"/>
<rect x="552.97" y="225.8" width="1.16" height="45.5" fill="#141414"/>
<rect x="551.90" y="229.6" width="3.3" height="23.7" fill="#111"/>
<rect x="552.60" y="230.2" width="1.9" height="22.4" fill="#0ea34a"/>
<rect x="556.96" y="220.6" width="1.16" height="22.2" fill="#141414"/>
<rect x="555.89" y="229.6" width="3.3" height="11.1" fill="#111"/>
<rect x="556.59" y="230.2" width="1.9" height="9.8" fill="#ee3f22"/>
<rect x="560.95" y="203.1" width="1.16" height="38.3" fill="#141414"/>
<rect x="559.88" y="214.7" width="3.3" height="25.8" fill="#111"/>
<rect x="560.58" y="215.4" width="1.9" height="24.5" fill="#0ea34a"/>
<rect x="564.94" y="209.1" width="1.16" height="29.4" fill="#141414"/>
<rect x="563.87" y="214.7" width="3.3" height="22.8" fill="#111"/>
<rect x="564.57" y="215.4" width="1.9" height="21.5" fill="#ee3f22"/>
<rect x="568.93" y="226.2" width="1.16" height="21.6" fill="#141414"/>
<rect x="567.86" y="228.3" width="3.3" height="9.2" fill="#111"/>
<rect x="568.56" y="229.0" width="1.9" height="7.9" fill="#0ea34a"/>
<rect x="572.92" y="207.0" width="1.16" height="34.0" fill="#141414"/>
<rect x="571.85" y="207.6" width="3.3" height="20.8" fill="#111"/>
<rect x="572.55" y="208.2" width="1.9" height="19.5" fill="#0ea34a"/>
<rect x="576.91" y="187.0" width="1.16" height="23.5" fill="#141414"/>
<rect x="575.84" y="189.8" width="3.3" height="18.0" fill="#111"/>
<rect x="576.54" y="190.5" width="1.9" height="16.7" fill="#0ea34a"/>
<rect x="580.90" y="168.2" width="1.16" height="30.5" fill="#141414"/>
<rect x="579.83" y="170.5" width="3.3" height="19.6" fill="#111"/>
<rect x="580.53" y="171.2" width="1.9" height="18.3" fill="#0ea34a"/>
<rect x="584.89" y="164.2" width="1.16" height="25.7" fill="#141414"/>
<rect x="583.82" y="165.3" width="3.3" height="5.4" fill="#111"/>
<rect x="584.52" y="166.0" width="1.9" height="4.1" fill="#0ea34a"/>
<rect x="588.88" y="162.6" width="1.16" height="21.5" fill="#141414"/>
<rect x="587.81" y="165.4" width="3.3" height="5.5" fill="#111"/>
<rect x="588.51" y="166.1" width="1.9" height="4.2" fill="#ee3f22"/>
<rect x="592.87" y="136.1" width="1.16" height="47.5" fill="#141414"/>
<rect x="591.80" y="170.7" width="3.3" height="4.3" fill="#111"/>
<rect x="592.50" y="171.4" width="1.9" height="3.0" fill="#ee3f22"/>
<rect x="596.86" y="171.3" width="1.16" height="25.6" fill="#141414"/>
<rect x="595.79" y="174.5" width="3.3" height="1.2" fill="#111"/>
<rect x="596.64" y="174.9" width="1.6" height="0.4" fill="#ee3f22" opacity="0.6"/>
<rect x="600.85" y="162.0" width="1.16" height="27.8" fill="#141414"/>
<rect x="599.78" y="165.2" width="3.3" height="10.0" fill="#111"/>
<rect x="600.48" y="165.9" width="1.9" height="8.7" fill="#0ea34a"/>
<rect x="604.84" y="148.5" width="1.16" height="20.7" fill="#141414"/>
<rect x="603.77" y="165.2" width="3.3" height="2.4" fill="#111"/>
<rect x="604.47" y="165.9" width="1.9" height="1.1" fill="#ee3f22"/>
<rect x="608.83" y="153.2" width="1.16" height="22.4" fill="#141414"/>
<rect x="607.76" y="160.2" width="3.3" height="6.9" fill="#111"/>
<rect x="608.46" y="160.9" width="1.9" height="5.6" fill="#0ea34a"/>
<rect x="612.82" y="150.4" width="1.16" height="38.7" fill="#141414"/>
<rect x="611.75" y="160.2" width="3.3" height="28.3" fill="#111"/>
<rect x="612.45" y="160.9" width="1.9" height="27.0" fill="#ee3f22"/>
<rect x="616.81" y="179.1" width="1.16" height="19.7" fill="#141414"/>
<rect x="615.74" y="188.2" width="3.3" height="1.2" fill="#111"/>
<rect x="616.59" y="188.6" width="1.6" height="0.4" fill="#ee3f22" opacity="0.6"/>
<rect x="620.80" y="169.4" width="1.16" height="28.2" fill="#141414"/>
<rect x="619.73" y="189.3" width="3.3" height="4.2" fill="#111"/>
<rect x="620.43" y="190.0" width="1.9" height="2.9" fill="#ee3f22"/>
<rect x="624.79" y="191.7" width="1.16" height="25.9" fill="#141414"/>
<rect x="623.72" y="193.3" width="3.3" height="14.1" fill="#111"/>
<rect x="624.42" y="194.0" width="1.9" height="12.8" fill="#ee3f22"/>
<rect x="628.78" y="191.2" width="1.16" height="21.0" fill="#141414"/>
<rect x="627.71" y="192.6" width="3.3" height="14.8" fill="#111"/>
<rect x="628.41" y="193.2" width="1.9" height="13.5" fill="#0ea34a"/>
<rect x="632.77" y="160.9" width="1.16" height="31.8" fill="#141414"/>
<rect x="631.70" y="169.1" width="3.3" height="23.2" fill="#111"/>
<rect x="632.40" y="169.8" width="1.9" height="21.9" fill="#0ea34a"/>
<rect x="636.76" y="153.5" width="1.16" height="16.4" fill="#141414"/>
<rect x="635.69" y="158.4" width="3.3" height="10.9" fill="#111"/>
<rect x="636.39" y="159.1" width="1.9" height="9.6" fill="#0ea34a"/>
<rect x="640.75" y="150.4" width="1.16" height="18.0" fill="#141414"/>
<rect x="639.68" y="156.2" width="3.3" height="2.4" fill="#111"/>
<rect x="640.38" y="156.9" width="1.9" height="1.1" fill="#0ea34a"/>
<rect x="644.74" y="152.8" width="1.16" height="9.9" fill="#141414"/>
<rect x="643.67" y="156.0" width="3.3" height="1.2" fill="#111"/>
<rect x="644.52" y="156.4" width="1.6" height="0.4" fill="#ee3f22" opacity="0.6"/>
<rect x="648.73" y="148.5" width="1.16" height="11.4" fill="#141414"/>
<rect x="647.66" y="156.9" width="3.3" height="2.1" fill="#111"/>
<rect x="648.36" y="157.6" width="1.9" height="0.8" fill="#ee3f22"/>
<rect x="652.72" y="150.9" width="1.16" height="22.8" fill="#141414"/>
<rect x="651.65" y="157.4" width="3.3" height="1.2" fill="#111"/>
<rect x="652.50" y="157.8" width="1.6" height="0.4" fill="#ee3f22" opacity="0.6"/>
<rect x="656.71" y="153.2" width="1.16" height="14.3" fill="#141414"/>
<rect x="655.64" y="157.3" width="3.3" height="4.1" fill="#111"/>
<rect x="656.34" y="158.0" width="1.9" height="2.8" fill="#ee3f22"/>
<rect x="660.70" y="159.2" width="1.16" height="22.1" fill="#141414"/>
<rect x="659.63" y="161.2" width="3.3" height="15.5" fill="#111"/>
<rect x="660.33" y="161.9" width="1.9" height="14.2" fill="#ee3f22"/>
<rect x="664.69" y="163.3" width="1.16" height="16.5" fill="#141414"/>
<rect x="663.62" y="165.6" width="3.3" height="11.1" fill="#111"/>
<rect x="664.32" y="166.2" width="1.9" height="9.8" fill="#0ea34a"/>
<rect x="668.68" y="157.3" width="1.16" height="9.7" fill="#141414"/>
<rect x="667.61" y="160.9" width="3.3" height="5.1" fill="#111"/>
<rect x="668.31" y="161.6" width="1.9" height="3.8" fill="#0ea34a"/>
<rect x="672.67" y="140.6" width="1.16" height="22.9" fill="#141414"/>
<rect x="671.60" y="148.8" width="3.3" height="12.3" fill="#111"/>
<rect x="672.30" y="149.5" width="1.9" height="11.0" fill="#0ea34a"/>
<rect x="676.66" y="122.5" width="1.16" height="27.4" fill="#141414"/>
<rect x="675.59" y="125.6" width="3.3" height="23.3" fill="#111"/>
<rect x="676.29" y="126.2" width="1.9" height="22.0" fill="#0ea34a"/>
<rect x="680.65" y="114.2" width="1.16" height="24.3" fill="#141414"/>
<rect x="679.58" y="125.6" width="3.3" height="5.7" fill="#111"/>
<rect x="680.28" y="126.2" width="1.9" height="4.4" fill="#ee3f22"/>
<rect x="684.64" y="122.1" width="1.16" height="11.4" fill="#141414"/>
<rect x="683.57" y="124.1" width="3.3" height="7.1" fill="#111"/>
<rect x="684.27" y="124.8" width="1.9" height="5.8" fill="#0ea34a"/>
<rect x="688.63" y="121.1" width="1.16" height="27.3" fill="#141414"/>
<rect x="687.56" y="124.1" width="3.3" height="10.2" fill="#111"/>
<rect x="688.26" y="124.8" width="1.9" height="8.9" fill="#ee3f22"/>
<rect x="692.62" y="130.6" width="1.16" height="75.7" fill="#141414"/>
<rect x="691.55" y="134.1" width="3.3" height="42.5" fill="#111"/>
<rect x="692.25" y="134.8" width="1.9" height="41.2" fill="#ee3f22"/>
<rect x="696.61" y="170.6" width="1.16" height="24.9" fill="#141414"/>
<rect x="695.54" y="172.1" width="3.3" height="4.5" fill="#111"/>
<rect x="696.24" y="172.8" width="1.9" height="3.2" fill="#0ea34a"/>
<rect x="700.60" y="170.1" width="1.16" height="19.0" fill="#141414"/>
<rect x="699.53" y="172.1" width="3.3" height="13.0" fill="#111"/>
<rect x="700.23" y="172.8" width="1.9" height="11.7" fill="#ee3f22"/>
<rect x="704.59" y="182.0" width="1.16" height="31.4" fill="#141414"/>
<rect x="703.52" y="184.9" width="3.3" height="27.9" fill="#111"/>
<rect x="704.22" y="185.6" width="1.9" height="26.6" fill="#ee3f22"/>
<rect x="708.58" y="206.3" width="1.16" height="32.0" fill="#141414"/>
<rect x="707.51" y="209.4" width="3.3" height="7.7" fill="#111"/>
<rect x="708.21" y="210.1" width="1.9" height="6.4" fill="#ee3f22"/>
<rect x="712.57" y="190.1" width="1.16" height="51.8" fill="#141414"/>
<rect x="711.50" y="198.3" width="3.3" height="18.8" fill="#111"/>
<rect x="712.20" y="199.0" width="1.9" height="17.5" fill="#0ea34a"/>
<rect x="716.56" y="183.4" width="1.16" height="17.9" fill="#141414"/>
<rect x="715.49" y="184.4" width="3.3" height="14.4" fill="#111"/>
<rect x="716.19" y="185.1" width="1.9" height="13.1" fill="#0ea34a"/>
<rect x="720.55" y="175.5" width="1.16" height="17.0" fill="#141414"/>
<rect x="719.48" y="184.4" width="3.3" height="5.0" fill="#111"/>
<rect x="720.18" y="185.1" width="1.9" height="3.7" fill="#ee3f22"/>
<rect x="724.54" y="184.2" width="1.16" height="19.2" fill="#141414"/>
<rect x="723.47" y="189.5" width="3.3" height="9.9" fill="#111"/>
<rect x="724.17" y="190.2" width="1.9" height="8.6" fill="#ee3f22"/>
<rect x="728.53" y="169.1" width="1.16" height="31.5" fill="#141414"/>
<rect x="727.46" y="172.1" width="3.3" height="27.8" fill="#111"/>
<rect x="728.16" y="172.8" width="1.9" height="26.5" fill="#0ea34a"/>
<rect x="732.52" y="157.0" width="1.16" height="19.3" fill="#141414"/>
<rect x="731.45" y="171.8" width="3.3" height="1.2" fill="#111"/>
<rect x="732.30" y="172.2" width="1.6" height="0.4" fill="#ee3f22" opacity="0.6"/>
<rect x="736.51" y="167.7" width="1.16" height="28.1" fill="#141414"/>
<rect x="735.44" y="172.3" width="3.3" height="14.2" fill="#111"/>
<rect x="736.14" y="173.0" width="1.9" height="12.9" fill="#ee3f22"/>
<rect x="740.50" y="164.9" width="1.16" height="33.4" fill="#141414"/>
<rect x="739.43" y="171.7" width="3.3" height="14.8" fill="#111"/>
<rect x="740.13" y="172.4" width="1.9" height="13.5" fill="#0ea34a"/>
<rect x="744.49" y="161.0" width="1.16" height="20.7" fill="#141414"/>
<rect x="743.42" y="171.7" width="3.3" height="6.4" fill="#111"/>
<rect x="744.12" y="172.4" width="1.9" height="5.1" fill="#ee3f22"/>
<rect x="748.48" y="159.2" width="1.16" height="22.8" fill="#141414"/>
<rect x="747.41" y="166.2" width="3.3" height="11.9" fill="#111"/>
<rect x="748.11" y="166.9" width="1.9" height="10.6" fill="#0ea34a"/>
<rect x="752.47" y="152.0" width="1.16" height="38.5" fill="#141414"/>
<rect x="751.40" y="166.2" width="3.3" height="17.0" fill="#111"/>
<rect x="752.10" y="166.9" width="1.9" height="15.7" fill="#ee3f22"/>
<rect x="756.46" y="170.7" width="1.16" height="17.0" fill="#141414"/>
<rect x="755.39" y="171.3" width="3.3" height="11.8" fill="#111"/>
<rect x="756.09" y="172.0" width="1.9" height="10.5" fill="#0ea34a"/>
<rect x="760.45" y="164.2" width="1.16" height="30.0" fill="#141414"/>
<rect x="759.38" y="171.3" width="3.3" height="17.5" fill="#111"/>
<rect x="760.08" y="172.0" width="1.9" height="16.2" fill="#ee3f22"/>
<rect x="764.44" y="187.3" width="1.16" height="57.5" fill="#141414"/>
<rect x="763.37" y="189.5" width="3.3" height="36.9" fill="#111"/>
<rect x="764.07" y="190.2" width="1.9" height="35.6" fill="#ee3f22"/>
<rect x="768.43" y="211.2" width="1.16" height="20.3" fill="#141414"/>
<rect x="767.36" y="226.2" width="3.3" height="1.2" fill="#111"/>
<rect x="768.21" y="226.6" width="1.6" height="0.4" fill="#ee3f22" opacity="0.6"/>
<rect x="772.42" y="217.1" width="1.16" height="60.5" fill="#141414"/>
<rect x="771.35" y="227.2" width="3.3" height="32.0" fill="#111"/>
<rect x="772.05" y="227.9" width="1.9" height="30.7" fill="#ee3f22"/>
<rect x="776.41" y="253.0" width="1.16" height="22.5" fill="#141414"/>
<rect x="775.34" y="259.4" width="3.3" height="11.2" fill="#111"/>
<rect x="776.04" y="260.1" width="1.9" height="9.9" fill="#ee3f22"/>
<rect x="780.40" y="269.5" width="1.16" height="95.5" fill="#141414"/>
<rect x="779.33" y="270.0" width="3.3" height="36.0" fill="#111"/>
<rect x="780.03" y="270.7" width="1.9" height="34.7" fill="#ee3f22"/>
<rect x="784.39" y="276.9" width="1.16" height="52.7" fill="#141414"/>
<rect x="783.32" y="294.1" width="3.3" height="11.6" fill="#111"/>
<rect x="784.02" y="294.8" width="1.9" height="10.3" fill="#0ea34a"/>
<rect x="788.38" y="279.8" width="1.16" height="48.8" fill="#141414"/>
<rect x="787.31" y="294.1" width="3.3" height="34.1" fill="#111"/>
<rect x="788.01" y="294.8" width="1.9" height="32.8" fill="#ee3f22"/>
<rect x="792.37" y="296.4" width="1.16" height="61.2" fill="#141414"/>
<rect x="791.30" y="301.6" width="3.3" height="26.6" fill="#111"/>
<rect x="792.00" y="302.2" width="1.9" height="25.3" fill="#0ea34a"/>
<rect x="796.36" y="295.4" width="1.16" height="21.6" fill="#141414"/>
<rect x="795.29" y="301.6" width="3.3" height="9.6" fill="#111"/>
<rect x="795.99" y="302.2" width="1.9" height="8.3" fill="#ee3f22"/>
<rect x="800.35" y="289.3" width="1.16" height="22.3" fill="#141414"/>
<rect x="799.28" y="304.1" width="3.3" height="7.1" fill="#111"/>
<rect x="799.98" y="304.8" width="1.9" height="5.8" fill="#0ea34a"/>
<rect x="804.34" y="292.5" width="1.16" height="21.7" fill="#141414"/>
<rect x="803.27" y="303.8" width="3.3" height="1.7" fill="#111"/>
<rect x="804.12" y="304.2" width="1.6" height="0.9" fill="#ee3f22" opacity="0.6"/>
<rect x="808.33" y="301.4" width="1.16" height="28.2" fill="#141414"/>
<rect x="807.26" y="305.3" width="3.3" height="23.9" fill="#111"/>
<rect x="807.96" y="305.9" width="1.9" height="22.6" fill="#ee3f22"/>
<rect x="812.32" y="313.5" width="1.16" height="27.5" fill="#141414"/>
<rect x="811.25" y="318.6" width="3.3" height="10.6" fill="#111"/>
<rect x="811.95" y="319.2" width="1.9" height="9.3" fill="#0ea34a"/>
<rect x="816.31" y="310.2" width="1.16" height="14.2" fill="#141414"/>
<rect x="815.24" y="319.1" width="3.3" height="2.3" fill="#111"/>
<rect x="815.94" y="319.8" width="1.9" height="1.0" fill="#ee3f22"/>
<rect x="820.30" y="308.5" width="1.16" height="14.9" fill="#141414"/>
<rect x="819.23" y="311.0" width="3.3" height="10.4" fill="#111"/>
<rect x="819.93" y="311.7" width="1.9" height="9.1" fill="#0ea34a"/>
<rect x="824.29" y="298.5" width="1.16" height="15.4" fill="#141414"/>
<rect x="823.22" y="304.4" width="3.3" height="6.3" fill="#111"/>
<rect x="823.92" y="305.1" width="1.9" height="5.0" fill="#0ea34a"/>
<rect x="828.28" y="300.2" width="1.16" height="25.1" fill="#141414"/>
<rect x="827.21" y="304.4" width="3.3" height="11.3" fill="#111"/>
<rect x="827.91" y="305.1" width="1.9" height="10.0" fill="#ee3f22"/>
<rect x="832.27" y="310.2" width="1.16" height="25.6" fill="#141414"/>
<rect x="831.20" y="315.8" width="3.3" height="19.6" fill="#111"/>
<rect x="831.90" y="316.4" width="1.9" height="18.3" fill="#ee3f22"/>
<rect x="836.26" y="334.1" width="1.16" height="24.0" fill="#141414"/>
<rect x="835.19" y="335.2" width="3.3" height="5.9" fill="#111"/>
<rect x="835.89" y="335.9" width="1.9" height="4.6" fill="#ee3f22"/>
<rect x="840.25" y="319.9" width="1.16" height="29.2" fill="#141414"/>
<rect x="839.18" y="320.5" width="3.3" height="20.6" fill="#111"/>
<rect x="839.88" y="321.2" width="1.9" height="19.3" fill="#0ea34a"/>
<rect x="844.24" y="307.1" width="1.16" height="17.8" fill="#141414"/>
<rect x="843.17" y="320.0" width="3.3" height="1.2" fill="#111"/>
<rect x="844.02" y="320.4" width="1.6" height="0.4" fill="#0ea34a" opacity="0.6"/>
<rect x="848.23" y="312.5" width="1.16" height="10.9" fill="#141414"/>
<rect x="847.16" y="315.2" width="3.3" height="5.1" fill="#111"/>
<rect x="847.86" y="315.9" width="1.9" height="3.8" fill="#0ea34a"/>
<rect x="852.22" y="287.8" width="1.16" height="44.9" fill="#141414"/>
<rect x="851.15" y="295.9" width="3.3" height="19.5" fill="#111"/>
<rect x="851.85" y="296.6" width="1.9" height="18.2" fill="#0ea34a"/>
<rect x="856.21" y="285.0" width="1.16" height="11.0" fill="#141414"/>
<rect x="855.14" y="294.1" width="3.3" height="1.7" fill="#111"/>
<rect x="855.99" y="294.5" width="1.6" height="0.9" fill="#ee3f22" opacity="0.6"/>
<rect x="860.20" y="291.1" width="1.16" height="14.8" fill="#141414"/>
<rect x="859.13" y="294.9" width="3.3" height="10.6" fill="#111"/>
<rect x="859.83" y="295.6" width="1.9" height="9.3" fill="#ee3f22"/>
<rect x="864.19" y="298.2" width="1.16" height="14.3" fill="#141414"/>
<rect x="863.12" y="305.3" width="3.3" height="5.9" fill="#111"/>
<rect x="863.82" y="305.9" width="1.9" height="4.6" fill="#ee3f22"/>
<rect x="868.18" y="308.2" width="1.16" height="20.5" fill="#141414"/>
<rect x="867.11" y="311.0" width="3.3" height="16.8" fill="#111"/>
<rect x="867.81" y="311.7" width="1.9" height="15.5" fill="#ee3f22"/>
<rect x="872.17" y="321.6" width="1.16" height="32.2" fill="#141414"/>
<rect x="871.10" y="327.6" width="3.3" height="20.9" fill="#111"/>
<rect x="871.80" y="328.2" width="1.9" height="19.6" fill="#ee3f22"/>
<rect x="876.16" y="344.4" width="1.16" height="30.3" fill="#141414"/>
<rect x="875.09" y="346.1" width="3.3" height="2.4" fill="#111"/>
<rect x="875.79" y="346.8" width="1.9" height="1.1" fill="#0ea34a"/>
<rect x="880.15" y="333.0" width="1.16" height="20.4" fill="#141414"/>
<rect x="879.08" y="345.2" width="3.3" height="1.2" fill="#111"/>
<rect x="879.93" y="345.6" width="1.6" height="0.4" fill="#0ea34a" opacity="0.6"/>
<rect x="884.14" y="329.6" width="1.16" height="19.9" fill="#141414"/>
<rect x="883.07" y="331.5" width="3.3" height="14.1" fill="#111"/>
<rect x="883.77" y="332.2" width="1.9" height="12.8" fill="#0ea34a"/>
<rect x="888.13" y="327.7" width="1.16" height="28.1" fill="#141414"/>
<rect x="887.06" y="331.5" width="3.3" height="19.8" fill="#111"/>
<rect x="887.76" y="332.2" width="1.9" height="18.5" fill="#ee3f22"/>
<rect x="892.12" y="329.1" width="1.16" height="36.4" fill="#141414"/>
<rect x="891.05" y="333.3" width="3.3" height="18.0" fill="#111"/>
<rect x="891.75" y="333.9" width="1.9" height="16.7" fill="#0ea34a"/>
<rect x="896.11" y="320.2" width="1.16" height="16.5" fill="#141414"/>
<rect x="895.04" y="322.4" width="3.3" height="11.1" fill="#111"/>
<rect x="895.74" y="323.1" width="1.9" height="9.8" fill="#0ea34a"/>
<rect x="900.10" y="321.6" width="1.16" height="15.7" fill="#141414"/>
<rect x="899.03" y="322.4" width="3.3" height="11.1" fill="#111"/>
<rect x="899.73" y="323.1" width="1.9" height="9.8" fill="#ee3f22"/>
<rect x="904.09" y="329.9" width="1.16" height="16.3" fill="#141414"/>
<rect x="903.02" y="333.3" width="3.3" height="9.2" fill="#111"/>
<rect x="903.72" y="333.9" width="1.9" height="7.9" fill="#ee3f22"/>
<rect x="908.08" y="341.3" width="1.16" height="5.7" fill="#141414"/>
<rect x="907.01" y="342.3" width="3.3" height="2.2" fill="#111"/>
<rect x="907.71" y="342.9" width="1.9" height="0.9" fill="#ee3f22"/>
<rect x="912.07" y="324.2" width="1.16" height="21.0" fill="#141414"/>
<rect x="911.00" y="339.4" width="3.3" height="5.1" fill="#111"/>
<rect x="911.70" y="340.1" width="1.9" height="3.8" fill="#0ea34a"/>
<rect x="916.06" y="330.6" width="1.16" height="9.9" fill="#141414"/>
<rect x="914.99" y="338.1" width="3.3" height="1.2" fill="#111"/>
<rect x="915.84" y="338.5" width="1.6" height="0.4" fill="#0ea34a" opacity="0.6"/>
<rect x="920.05" y="331.0" width="1.16" height="8.8" fill="#141414"/>
<rect x="918.98" y="334.0" width="3.3" height="4.8" fill="#111"/>
<rect x="919.68" y="334.7" width="1.9" height="3.5" fill="#0ea34a"/>
<rect x="924.04" y="333.4" width="1.16" height="17.8" fill="#141414"/>
<rect x="922.97" y="334.0" width="3.3" height="13.1" fill="#111"/>
<rect x="923.67" y="334.7" width="1.9" height="11.8" fill="#ee3f22"/>
<rect x="928.03" y="340.5" width="1.16" height="9.6" fill="#141414"/>
<rect x="926.96" y="341.4" width="3.3" height="5.7" fill="#111"/>
<rect x="927.66" y="342.1" width="1.9" height="4.4" fill="#0ea34a"/>
<rect x="932.02" y="333.4" width="1.16" height="14.7" fill="#141414"/>
<rect x="930.95" y="341.4" width="3.3" height="5.4" fill="#111"/>
<rect x="931.65" y="342.1" width="1.9" height="4.1" fill="#ee3f22"/>
<rect x="936.01" y="343.4" width="1.16" height="7.1" fill="#141414"/>
<rect x="934.94" y="346.1" width="3.3" height="3.1" fill="#111"/>
<rect x="935.64" y="346.8" width="1.9" height="1.8" fill="#ee3f22"/>
<rect x="940.00" y="345.5" width="1.16" height="9.3" fill="#141414"/>
<rect x="938.93" y="346.6" width="3.3" height="2.6" fill="#111"/>
<rect x="939.63" y="347.2" width="1.9" height="1.3" fill="#0ea34a"/>
<rect x="943.99" y="344.8" width="1.16" height="13.5" fill="#141414"/>
<rect x="942.92" y="346.6" width="3.3" height="7.6" fill="#111"/>
<rect x="943.62" y="347.2" width="1.9" height="6.3" fill="#ee3f22"/>
<rect x="947.98" y="350.5" width="1.16" height="8.5" fill="#141414"/>
<rect x="946.91" y="352.9" width="3.3" height="1.2" fill="#111"/>
<rect x="947.76" y="353.3" width="1.6" height="0.4" fill="#ee3f22" opacity="0.6"/>
</g></g>
<path d="M679.6 111.2 L681 109.6 L682.6 111.2" stroke="#ee3f22" stroke-width="0.9" fill="none"/>
<path d="M101.4 515 L102.8 516.4 L104.4 514.8" stroke="#ee3f22" stroke-width="0.9" fill="none"/>
<rect x="366" y="294.6" width="147.9" height="71" fill="rgba(245,169,41,0.225)"/>
<rect x="365.4" y="294.6" width="1.3" height="71.4" fill="rgba(70,58,40,0.78)"/>
<rect x="512.8" y="294.6" width="1.2" height="71.4" fill="rgba(35,26,10,0.95)"/>
<rect x="365.4" y="364.9" width="148.6" height="1.1" fill="rgba(85,68,30,0.85)"/>
<rect x="769" y="294.6" width="211.9" height="71" fill="rgba(245,169,41,0.225)"/>
<rect x="768.4" y="294.6" width="1.3" height="71.4" fill="rgba(70,58,40,0.78)"/>
<rect x="979.8" y="294.6" width="1.2" height="71.4" fill="rgba(35,26,10,0.95)"/>
<rect x="768.4" y="364.9" width="212.6" height="1.1" fill="rgba(85,68,30,0.85)"/>
<rect x="71.00" y="652.6" width="1.11" height="5.4" fill="#0aa64c"/>
<rect x="73.40" y="649.2" width="2.70" height="8.8" fill="#0aa64c"/>
<rect x="77.39" y="648.9" width="2.70" height="9.1" fill="#0aa64c"/>
<rect x="81.38" y="648.9" width="2.70" height="9.1" fill="#0aa64c"/>
<rect x="85.37" y="651.3" width="2.70" height="6.7" fill="#f04124"/>
<rect x="89.36" y="652.6" width="2.70" height="5.4" fill="#f04124"/>
<rect x="93.35" y="639.6" width="2.70" height="18.4" fill="#f04124"/>
<rect x="97.34" y="652.1" width="2.70" height="5.9" fill="#0aa64c"/>
<rect x="101.33" y="651.3" width="2.70" height="6.7" fill="#f04124"/>
<rect x="105.32" y="650.1" width="2.70" height="7.9" fill="#0aa64c"/>
<rect x="109.31" y="650.1" width="2.70" height="7.9" fill="#0aa64c"/>
<rect x="113.30" y="652.3" width="2.70" height="5.7" fill="#0aa64c"/>
<rect x="117.29" y="651.8" width="2.70" height="6.2" fill="#f04124"/>
<rect x="121.28" y="653.0" width="2.70" height="5.0" fill="#f04124"/>
<rect x="125.27" y="647.6" width="2.70" height="10.4" fill="#f04124"/>
<rect x="129.26" y="649.7" width="2.70" height="8.3" fill="#f04124"/>
<rect x="133.25" y="653.8" width="2.70" height="4.2" fill="#0aa64c"/>
<rect x="137.24" y="652.1" width="2.70" height="5.9" fill="#f04124"/>
<rect x="141.23" y="652.6" width="2.70" height="5.4" fill="#0aa64c"/>
<rect x="145.22" y="649.9" width="2.70" height="8.1" fill="#0aa64c"/>
<rect x="149.21" y="650.9" width="2.70" height="7.1" fill="#0aa64c"/>
<rect x="153.20" y="649.9" width="2.70" height="8.1" fill="#0aa64c"/>
<rect x="157.19" y="649.9" width="2.70" height="8.1" fill="#f04124"/>
<rect x="161.18" y="652.6" width="2.70" height="5.4" fill="#f04124"/>
<rect x="165.17" y="651.6" width="2.70" height="6.4" fill="#0aa64c"/>
<rect x="169.16" y="651.1" width="2.70" height="6.9" fill="#f04124"/>
<rect x="173.15" y="650.8" width="2.70" height="7.2" fill="#0aa64c"/>
<rect x="177.14" y="648.4" width="2.70" height="9.6" fill="#0aa64c"/>
<rect x="181.13" y="627.0" width="2.70" height="31.0" fill="#0aa64c"/>
<rect x="185.12" y="629.9" width="2.70" height="28.1" fill="#0aa64c"/>
<rect x="189.11" y="649.2" width="2.70" height="8.8" fill="#f04124"/>
<rect x="193.10" y="649.9" width="2.70" height="8.1" fill="#0aa64c"/>
<rect x="197.09" y="636.6" width="2.70" height="21.4" fill="#0aa64c"/>
<rect x="201.08" y="642.5" width="2.70" height="15.5" fill="#f04124"/>
<rect x="205.07" y="640.3" width="2.70" height="17.7" fill="#0aa64c"/>
<rect x="209.06" y="646.4" width="2.70" height="11.6" fill="#0aa64c"/>
<rect x="213.05" y="648.1" width="2.70" height="9.9" fill="#f04124"/>
<rect x="217.04" y="644.2" width="2.70" height="13.8" fill="#0aa64c"/>
<rect x="221.03" y="642.8" width="2.70" height="15.2" fill="#0aa64c"/>
<rect x="225.02" y="626.0" width="2.70" height="32.0" fill="#0aa64c"/>
<rect x="229.01" y="625.0" width="2.70" height="33.0" fill="#0aa64c"/>
<rect x="233.00" y="633.2" width="2.70" height="24.8" fill="#f04124"/>
<rect x="236.99" y="642.2" width="2.70" height="15.8" fill="#0aa64c"/>
<rect x="240.98" y="641.7" width="2.70" height="16.3" fill="#0aa64c"/>
<rect x="244.97" y="633.2" width="2.70" height="24.8" fill="#0aa64c"/>
<rect x="248.96" y="641.8" width="2.70" height="16.2" fill="#0aa64c"/>
<rect x="252.95" y="649.2" width="2.70" height="8.8" fill="#0aa64c"/>
<rect x="256.94" y="635.8" width="2.70" height="22.2" fill="#0aa64c"/>
<rect x="260.93" y="619.2" width="2.70" height="38.8" fill="#0aa64c"/>
<rect x="264.92" y="638.0" width="2.70" height="20.0" fill="#0aa64c"/>
<rect x="268.91" y="638.0" width="2.70" height="20.0" fill="#0aa64c"/>
<rect x="272.90" y="637.4" width="2.70" height="20.6" fill="#f04124"/>
<rect x="276.89" y="628.2" width="2.70" height="29.8" fill="#0aa64c"/>
<rect x="280.88" y="637.4" width="2.70" height="20.6" fill="#f04124"/>
<rect x="284.87" y="610.5" width="2.70" height="47.5" fill="#f04124"/>
<rect x="288.86" y="636.3" width="2.70" height="21.7" fill="#f04124"/>
<rect x="292.85" y="633.7" width="2.70" height="24.3" fill="#0aa64c"/>
<rect x="296.84" y="629.9" width="2.70" height="28.1" fill="#f04124"/>
<rect x="300.83" y="644.5" width="2.70" height="13.5" fill="#0aa64c"/>
<rect x="304.82" y="646.2" width="2.70" height="11.8" fill="#0aa64c"/>
<rect x="308.81" y="646.2" width="2.70" height="11.8" fill="#f04124"/>
<rect x="312.80" y="648.9" width="2.70" height="9.1" fill="#0aa64c"/>
<rect x="316.79" y="645.9" width="2.70" height="12.1" fill="#f04124"/>
<rect x="320.78" y="634.9" width="2.70" height="23.1" fill="#f04124"/>
<rect x="324.77" y="643.3" width="2.70" height="14.7" fill="#f04124"/>
<rect x="328.76" y="641.2" width="2.70" height="16.8" fill="#f04124"/>
<rect x="332.75" y="652.3" width="2.70" height="5.7" fill="#0aa64c"/>
<rect x="336.74" y="642.5" width="2.70" height="15.5" fill="#0aa64c"/>
<rect x="340.73" y="622.8" width="2.70" height="35.2" fill="#0aa64c"/>
<rect x="344.72" y="597.0" width="2.70" height="61.0" fill="#0aa64c"/>
<rect x="348.71" y="642.5" width="2.70" height="15.5" fill="#0aa64c"/>
<rect x="352.70" y="626.5" width="2.70" height="31.5" fill="#0aa64c"/>
<rect x="356.69" y="645.5" width="2.70" height="12.5" fill="#0aa64c"/>
<rect x="360.68" y="642.2" width="2.70" height="15.8" fill="#f04124"/>
<rect x="364.67" y="646.2" width="2.70" height="11.8" fill="#0aa64c"/>
<rect x="368.66" y="645.9" width="2.70" height="12.1" fill="#0aa64c"/>
<rect x="372.65" y="644.5" width="2.70" height="13.5" fill="#0aa64c"/>
<rect x="376.64" y="643.0" width="2.70" height="15.0" fill="#0aa64c"/>
<rect x="380.63" y="627.0" width="2.70" height="31.0" fill="#0aa64c"/>
<rect x="384.62" y="629.0" width="2.70" height="29.0" fill="#0aa64c"/>
<rect x="388.61" y="643.8" width="2.70" height="14.2" fill="#0aa64c"/>
<rect x="392.60" y="605.9" width="2.70" height="52.1" fill="#0aa64c"/>
<rect x="396.59" y="617.6" width="2.70" height="40.4" fill="#0aa64c"/>
<rect x="400.58" y="620.3" width="2.70" height="37.7" fill="#0aa64c"/>
<rect x="404.57" y="617.7" width="2.70" height="40.3" fill="#0aa64c"/>
<rect x="408.56" y="620.1" width="2.70" height="37.9" fill="#0aa64c"/>
<rect x="412.55" y="586.1" width="2.70" height="71.9" fill="#f04124"/>
<rect x="416.54" y="620.1" width="2.70" height="37.9" fill="#0aa64c"/>
<rect x="420.53" y="629.5" width="2.70" height="28.5" fill="#0aa64c"/>
<rect x="424.52" y="631.9" width="2.70" height="26.1" fill="#0aa64c"/>
<rect x="428.51" y="627.0" width="2.70" height="31.0" fill="#f04124"/>
<rect x="432.50" y="639.1" width="2.70" height="18.9" fill="#f04124"/>
<rect x="436.49" y="639.1" width="2.70" height="18.9" fill="#0aa64c"/>
<rect x="440.48" y="631.9" width="2.70" height="26.1" fill="#f04124"/>
<rect x="444.47" y="620.1" width="2.70" height="37.9" fill="#f04124"/>
<rect x="448.46" y="615.2" width="2.70" height="42.8" fill="#0aa64c"/>
<rect x="452.45" y="634.4" width="2.70" height="23.6" fill="#f04124"/>
<rect x="456.44" y="633.6" width="2.70" height="24.4" fill="#f04124"/>
<rect x="460.43" y="620.3" width="2.70" height="37.7" fill="#f04124"/>
<rect x="464.42" y="628.2" width="2.70" height="29.8" fill="#0aa64c"/>
<rect x="468.41" y="599.5" width="2.70" height="58.5" fill="#0aa64c"/>
<rect x="472.40" y="638.3" width="2.70" height="19.7" fill="#f04124"/>
<rect x="476.39" y="638.3" width="2.70" height="19.7" fill="#0aa64c"/>
<rect x="480.38" y="637.1" width="2.70" height="20.9" fill="#0aa64c"/>
<rect x="484.37" y="632.9" width="2.70" height="25.1" fill="#0aa64c"/>
<rect x="488.36" y="641.3" width="2.70" height="16.7" fill="#0aa64c"/>
<rect x="492.35" y="623.1" width="2.70" height="34.9" fill="#0aa64c"/>
<rect x="496.34" y="621.9" width="2.70" height="36.1" fill="#0aa64c"/>
<rect x="500.33" y="634.4" width="2.70" height="23.6" fill="#f04124"/>
<rect x="504.32" y="635.4" width="2.70" height="22.6" fill="#0aa64c"/>
<rect x="508.31" y="638.3" width="2.70" height="19.7" fill="#0aa64c"/>
<rect x="512.30" y="640.8" width="2.70" height="17.2" fill="#0aa64c"/>
<rect x="516.29" y="637.4" width="2.70" height="20.6" fill="#0aa64c"/>
<rect x="520.28" y="635.4" width="2.70" height="22.6" fill="#0aa64c"/>
<rect x="524.27" y="642.2" width="2.70" height="15.8" fill="#f04124"/>
<rect x="528.26" y="636.6" width="2.70" height="21.4" fill="#0aa64c"/>
<rect x="532.25" y="619.8" width="2.70" height="38.2" fill="#f04124"/>
<rect x="536.24" y="607.1" width="2.70" height="50.9" fill="#f04124"/>
<rect x="540.23" y="629.5" width="2.70" height="28.5" fill="#0aa64c"/>
<rect x="544.22" y="638.0" width="2.70" height="20.0" fill="#f04124"/>
<rect x="548.21" y="628.3" width="2.70" height="29.7" fill="#f04124"/>
<rect x="552.20" y="636.1" width="2.70" height="21.9" fill="#0aa64c"/>
<rect x="556.19" y="641.3" width="2.70" height="16.7" fill="#f04124"/>
<rect x="560.18" y="638.5" width="2.70" height="19.5" fill="#0aa64c"/>
<rect x="564.17" y="640.0" width="2.70" height="18.0" fill="#f04124"/>
<rect x="568.16" y="639.5" width="2.70" height="18.5" fill="#0aa64c"/>
<rect x="572.15" y="643.0" width="2.70" height="15.0" fill="#0aa64c"/>
<rect x="576.14" y="640.3" width="2.70" height="17.7" fill="#0aa64c"/>
<rect x="580.13" y="638.1" width="2.70" height="19.9" fill="#0aa64c"/>
<rect x="584.12" y="640.0" width="2.70" height="18.0" fill="#0aa64c"/>
<rect x="588.11" y="640.3" width="2.70" height="17.7" fill="#f04124"/>
<rect x="592.10" y="635.1" width="2.70" height="22.9" fill="#f04124"/>
<rect x="596.09" y="638.3" width="2.70" height="19.7" fill="#f04124"/>
<rect x="600.08" y="640.3" width="2.70" height="17.7" fill="#0aa64c"/>
<rect x="604.07" y="640.5" width="2.70" height="17.5" fill="#f04124"/>
<rect x="608.06" y="645.0" width="2.70" height="13.0" fill="#0aa64c"/>
<rect x="612.05" y="645.0" width="2.70" height="13.0" fill="#f04124"/>
<rect x="616.04" y="640.8" width="2.70" height="17.2" fill="#f04124"/>
<rect x="620.03" y="644.2" width="2.70" height="13.8" fill="#f04124"/>
<rect x="624.02" y="636.1" width="2.70" height="21.9" fill="#f04124"/>
<rect x="628.01" y="640.8" width="2.70" height="17.2" fill="#0aa64c"/>
<rect x="632.00" y="646.4" width="2.70" height="11.6" fill="#0aa64c"/>
<rect x="635.99" y="648.9" width="2.70" height="9.1" fill="#0aa64c"/>
<rect x="639.98" y="647.4" width="2.70" height="10.6" fill="#0aa64c"/>
<rect x="643.97" y="651.4" width="2.70" height="6.6" fill="#f04124"/>
<rect x="647.96" y="651.3" width="2.70" height="6.7" fill="#f04124"/>
<rect x="651.95" y="652.3" width="2.70" height="5.7" fill="#0aa64c"/>
<rect x="655.94" y="651.4" width="2.70" height="6.6" fill="#f04124"/>
<rect x="659.93" y="646.9" width="2.70" height="11.1" fill="#f04124"/>
<rect x="663.92" y="652.1" width="2.70" height="5.9" fill="#0aa64c"/>
<rect x="667.91" y="652.9" width="2.70" height="5.1" fill="#0aa64c"/>
<rect x="671.90" y="650.8" width="2.70" height="7.2" fill="#0aa64c"/>
<rect x="675.89" y="639.5" width="2.70" height="18.5" fill="#0aa64c"/>
<rect x="679.88" y="638.1" width="2.70" height="19.9" fill="#f04124"/>
<rect x="683.87" y="650.4" width="2.70" height="7.6" fill="#0aa64c"/>
<rect x="687.86" y="639.1" width="2.70" height="18.9" fill="#f04124"/>
<rect x="691.85" y="642.2" width="2.70" height="15.8" fill="#f04124"/>
<rect x="695.84" y="642.0" width="2.70" height="16.0" fill="#0aa64c"/>
<rect x="699.83" y="645.4" width="2.70" height="12.6" fill="#f04124"/>
<rect x="703.82" y="638.3" width="2.70" height="19.7" fill="#f04124"/>
<rect x="707.81" y="625.6" width="2.70" height="32.4" fill="#f04124"/>
<rect x="711.80" y="640.8" width="2.70" height="17.2" fill="#0aa64c"/>
<rect x="715.79" y="644.5" width="2.70" height="13.5" fill="#0aa64c"/>
<rect x="719.78" y="645.2" width="2.70" height="12.8" fill="#f04124"/>
<rect x="723.77" y="644.5" width="2.70" height="13.5" fill="#f04124"/>
<rect x="727.76" y="645.2" width="2.70" height="12.8" fill="#0aa64c"/>
<rect x="731.75" y="646.2" width="2.70" height="11.8" fill="#0aa64c"/>
<rect x="735.74" y="640.6" width="2.70" height="17.4" fill="#f04124"/>
<rect x="739.73" y="642.2" width="2.70" height="15.8" fill="#0aa64c"/>
<rect x="743.72" y="644.2" width="2.70" height="13.8" fill="#f04124"/>
<rect x="747.71" y="646.2" width="2.70" height="11.8" fill="#0aa64c"/>
<rect x="751.70" y="640.5" width="2.70" height="17.5" fill="#f04124"/>
<rect x="755.69" y="643.7" width="2.70" height="14.3" fill="#0aa64c"/>
<rect x="759.68" y="640.1" width="2.70" height="17.9" fill="#f04124"/>
<rect x="763.67" y="620.3" width="2.70" height="37.7" fill="#f04124"/>
<rect x="767.66" y="641.2" width="2.70" height="16.8" fill="#f04124"/>
<rect x="771.65" y="620.3" width="2.70" height="37.7" fill="#f04124"/>
<rect x="775.64" y="636.1" width="2.70" height="21.9" fill="#f04124"/>
<rect x="779.63" y="575.9" width="2.70" height="82.1" fill="#f04124"/>
<rect x="783.62" y="615.9" width="2.70" height="42.1" fill="#0aa64c"/>
<rect x="787.61" y="622.3" width="2.70" height="35.7" fill="#f04124"/>
<rect x="791.60" y="629.4" width="2.70" height="28.6" fill="#0aa64c"/>
<rect x="795.59" y="638.8" width="2.70" height="19.2" fill="#f04124"/>
<rect x="799.58" y="635.9" width="2.70" height="22.1" fill="#0aa64c"/>
<rect x="803.57" y="640.8" width="2.70" height="17.2" fill="#f04124"/>
<rect x="807.56" y="631.9" width="2.70" height="26.1" fill="#f04124"/>
<rect x="811.55" y="639.1" width="2.70" height="18.9" fill="#0aa64c"/>
<rect x="815.54" y="640.8" width="2.70" height="17.2" fill="#f04124"/>
<rect x="819.53" y="643.0" width="2.70" height="15.0" fill="#0aa64c"/>
<rect x="823.52" y="642.5" width="2.70" height="15.5" fill="#0aa64c"/>
<rect x="827.51" y="638.6" width="2.70" height="19.4" fill="#f04124"/>
<rect x="831.50" y="636.1" width="2.70" height="21.9" fill="#f04124"/>
<rect x="835.49" y="618.6" width="2.70" height="39.4" fill="#f04124"/>
<rect x="839.48" y="615.5" width="2.70" height="42.5" fill="#0aa64c"/>
<rect x="843.47" y="628.2" width="2.70" height="29.8" fill="#0aa64c"/>
<rect x="851.45" y="627.3" width="2.70" height="30.7" fill="#0aa64c"/>
<rect x="855.44" y="632.4" width="2.70" height="25.6" fill="#0aa64c"/>
<rect x="859.43" y="633.7" width="2.70" height="24.3" fill="#f04124"/>
<rect x="863.42" y="649.2" width="2.70" height="8.8" fill="#f04124"/>
<rect x="867.41" y="628.2" width="2.70" height="29.8" fill="#f04124"/>
<rect x="871.40" y="625.1" width="2.70" height="32.9" fill="#f04124"/>
<rect x="875.39" y="611.0" width="2.70" height="47.0" fill="#0aa64c"/>
<rect x="879.38" y="633.6" width="2.70" height="24.4" fill="#0aa64c"/>
<rect x="883.37" y="639.1" width="2.70" height="18.9" fill="#0aa64c"/>
<rect x="887.36" y="629.0" width="2.70" height="29.0" fill="#f04124"/>
<rect x="891.35" y="634.1" width="2.70" height="23.9" fill="#0aa64c"/>
<rect x="895.34" y="634.1" width="2.70" height="23.9" fill="#0aa64c"/>
<rect x="899.33" y="636.3" width="2.70" height="21.7" fill="#f04124"/>
<rect x="903.32" y="650.1" width="2.70" height="7.9" fill="#f04124"/>
<rect x="907.31" y="651.0" width="2.70" height="7.0" fill="#f04124"/>
<rect x="911.30" y="652.0" width="2.70" height="6.0" fill="#0aa64c"/>
<rect x="915.29" y="643.3" width="2.70" height="14.7" fill="#0aa64c"/>
<rect x="919.28" y="653.0" width="2.70" height="5.0" fill="#0aa64c"/>
<rect x="923.27" y="634.1" width="2.70" height="23.9" fill="#f04124"/>
<rect x="927.26" y="652.6" width="2.70" height="5.4" fill="#0aa64c"/>
<rect x="931.25" y="641.2" width="2.70" height="16.8" fill="#f04124"/>
<rect x="935.24" y="652.3" width="2.70" height="5.7" fill="#f04124"/>
<rect x="939.23" y="651.4" width="2.70" height="6.6" fill="#0aa64c"/>
<rect x="943.22" y="650.9" width="2.70" height="7.1" fill="#f04124"/>
<rect x="947.21" y="651.8" width="2.70" height="6.2" fill="#0aa64c"/>
<text x="1124.5" y="79.6" font-size="12" fill="#5b5b5b" textLength="51.9" lengthAdjust="spacingAndGlyphs">70,000.00</text>
<text x="1124.5" y="116.1" font-size="12" fill="#5b5b5b" textLength="51.9" lengthAdjust="spacingAndGlyphs">65,000.00</text>
<text x="1124.5" y="152.5" font-size="12" fill="#5b5b5b" textLength="51.9" lengthAdjust="spacingAndGlyphs">60,000.00</text>
<text x="1124.5" y="189.0" font-size="12" fill="#5b5b5b" textLength="51.9" lengthAdjust="spacingAndGlyphs">55,000.00</text>
<text x="1124.5" y="225.4" font-size="12" fill="#5b5b5b" textLength="51.9" lengthAdjust="spacingAndGlyphs">50,000.00</text>
<text x="1124.5" y="261.8" font-size="12" fill="#5b5b5b" textLength="51.9" lengthAdjust="spacingAndGlyphs">45,000.00</text>
<text x="1124.5" y="298.3" font-size="12" fill="#5b5b5b" textLength="51.9" lengthAdjust="spacingAndGlyphs">40,000.00</text>
<text x="1124.5" y="334.7" font-size="12" fill="#5b5b5b" textLength="51.9" lengthAdjust="spacingAndGlyphs">35,000.00</text>
<text x="1124.5" y="371.2" font-size="12" fill="#5b5b5b" textLength="51.9" lengthAdjust="spacingAndGlyphs">30,000.00</text>
<text x="1124.5" y="407.6" font-size="12" fill="#5b5b5b" textLength="51.9" lengthAdjust="spacingAndGlyphs">25,000.00</text>
<text x="1124.5" y="444.1" font-size="12" fill="#5b5b5b" textLength="51.9" lengthAdjust="spacingAndGlyphs">20,000.00</text>
<text x="1124.5" y="480.5" font-size="12" fill="#5b5b5b" textLength="51.9" lengthAdjust="spacingAndGlyphs">15,000.00</text>
<text x="1124.5" y="517.0" font-size="12" fill="#5b5b5b" textLength="51.9" lengthAdjust="spacingAndGlyphs">10,000.00</text>
<text x="1124.5" y="553.4" font-size="12" fill="#5b5b5b" textLength="45.2" lengthAdjust="spacingAndGlyphs">5,000.00</text>
<text x="1124.5" y="606.2" font-size="12" fill="#5b5b5b" textLength="28" lengthAdjust="spacingAndGlyphs">200K</text>
<path d="M1112.6 148.6 L1118.6 138.4 H1178.5 Q1181 138.4 1181 140.9 V156.3 Q1181 158.8 1178.5 158.8 H1118.6 Z" fill="#000"/>
<text x="1123.3" y="152.2" font-size="10.8" font-weight="bold" fill="#fff" textLength="52.2" lengthAdjust="spacingAndGlyphs">60,000.00</text>
<path d="M1112.6 221.5 L1118.6 211.3 H1178.5 Q1181 211.3 1181 213.8 V229.2 Q1181 231.7 1178.5 231.7 H1118.6 Z" fill="#000"/>
<text x="1123.3" y="225.1" font-size="10.8" font-weight="bold" fill="#fff" textLength="52.2" lengthAdjust="spacingAndGlyphs">50,000.00</text>
<path d="M1112.6 440.2 L1118.6 430.0 H1178.5 Q1181 430.0 1181 432.5 V447.9 Q1181 450.4 1178.5 450.4 H1118.6 Z" fill="#000"/>
<text x="1123.3" y="443.8" font-size="10.8" font-weight="bold" fill="#fff" textLength="52.2" lengthAdjust="spacingAndGlyphs">20,000.00</text>
<path d="M1112.6 367.3 L1118.6 357.1 H1178.5 Q1181 357.1 1181 359.6 V375.0 Q1181 377.5 1178.5 377.5 H1118.6 Z" fill="#000"/>
<text x="1123.3" y="370.9" font-size="10.8" font-weight="bold" fill="#fff" textLength="52.2" lengthAdjust="spacingAndGlyphs">30,000.00</text>
<path d="M1112.6 353.4 L1118.6 343.2 H1178.5 Q1181 343.2 1181 345.7 V361.1 Q1181 363.6 1178.5 363.6 H1118.6 Z" fill="#0ab04f"/>
<text x="1123.3" y="357.0" font-size="10.8" font-weight="bold" fill="#fff" textLength="52.2" lengthAdjust="spacingAndGlyphs">31,902.13</text>
<path d="M1112.6 294.4 L1118.6 284.2 H1178.5 Q1181 284.2 1181 286.7 V302.1 Q1181 304.6 1178.5 304.6 H1118.6 Z" fill="#000"/>
<text x="1123.3" y="298.0" font-size="10.8" font-weight="bold" fill="#fff" textLength="52.2" lengthAdjust="spacingAndGlyphs">40,000.00</text>
<path d="M1112.6 309.7 L1118.6 299.5 H1178.5 Q1181 299.5 1181 302.0 V317.4 Q1181 319.9 1178.5 319.9 H1118.6 Z" fill="#f04124"/>
<text x="1123.3" y="313.3" font-size="10.8" font-weight="bold" fill="#fff" textLength="52.2" lengthAdjust="spacingAndGlyphs">37,896.39</text>
<path d="M1112.6 321.7 L1118.6 311.5 H1178.5 Q1181 311.5 1181 314.0 V329.4 Q1181 331.9 1178.5 331.9 H1118.6 Z" fill="#000"/>
<text x="1123.3" y="325.3" font-size="10.8" font-weight="bold" fill="#fff" textLength="52.2" lengthAdjust="spacingAndGlyphs">36,257.82</text>
<path d="M1112.6 650.3 L1118.6 640.3 H1146.8 Q1148.8 640.3 1148.8 642.3 V658.3 Q1148.8 660.3 1146.8 660.3 H1118.6 Z" fill="#0ab04f"/>
<text x="1124" y="654.2" font-size="10.8" font-weight="bold" fill="#fff" textLength="20.5" lengthAdjust="spacingAndGlyphs">23K</text>
<g stroke="#111" fill="none" stroke-width="1.2">
<path d="M32 72.1H37.8 M41.6 72.1H47.4"/><circle cx="39.7" cy="72.1" r="1.9" fill="#fff"/>
<path d="M35 97.6 L32.5 106.3"/><circle cx="35.4" cy="96" r="1.7" fill="#fff"/><circle cx="32" cy="108" r="1.7" fill="#fff"/>
<path d="M38.8 96.4H49.4 M38.8 100.3H49.4 M38.8 104.2H49.4 M38.8 108H49.4" stroke-width="1.1" stroke="#333"/>
<ellipse cx="39.7" cy="131.9" rx="7.6" ry="6.6"/>
<circle cx="39.7" cy="125.2" r="1.7" fill="#fff"/>
<circle cx="39.7" cy="138.6" r="1.7" fill="#fff"/>
<circle cx="32" cy="131.9" r="1.7" fill="#fff"/>
<circle cx="47.4" cy="131.9" r="1.7" fill="#fff"/>
<path d="M39.7 154 L48 164.6 H43.9 V171 H35.6 V164.6 H31.5 Z" stroke-width="1.5" stroke-linejoin="miter"/>
<circle cx="39.7" cy="191.9" r="9.3" stroke-width="1.3"/>
</g>
<text x="39.8" y="197" font-size="13.5" fill="#111" text-anchor="middle">1</text>
<g stroke="#111" fill="none" stroke-width="1.1">
<path d="M34.2 215.3H48.8 M34.2 224.5H45.5 M34.2 229H48.8"/>
<path d="M40.2 216.5V228"/><path d="M38.6 218.6 L40.2 216.2 L41.8 218.6 Z M38.6 226 L40.2 228.4 L41.8 226 Z" fill="#111" stroke-width="0.6"/>
<circle cx="32.3" cy="215.3" r="1.7" fill="#fff"/>
<circle cx="32.3" cy="224.6" r="1.7" fill="#fff"/>
<circle cx="32.3" cy="229.2" r="1.7" fill="#fff"/>
<circle cx="47.4" cy="224.5" r="1.7" fill="#fff"/>
<path d="M32.3 261 V251 A7.6 7.6 0 0 1 47.5 251 V261 H43 V251 A3.1 3.1 0 0 0 36.8 251 V261 Z" stroke-width="1.4"/>
<path d="M32.3 256.8H36.8 M43 256.8H47.5" stroke-width="1.2"/>
</g>
<path d="M57.3 69.0 L61.3 72.6 L57.3 76.2" fill="none" stroke="#111" stroke-width="2.1"/>
<path d="M57.3 99.0 L61.3 102.6 L57.3 106.2" fill="none" stroke="#111" stroke-width="2.1"/>
<path d="M57.3 128.7 L61.3 132.3 L57.3 135.9" fill="none" stroke="#111" stroke-width="2.1"/>
<path d="M57.3 158.7 L61.3 162.3 L57.3 165.9" fill="none" stroke="#111" stroke-width="2.1"/>
<path d="M57.3 188.4 L61.3 192.0 L57.3 195.6" fill="none" stroke="#111" stroke-width="2.1"/>
<path d="M57.3 218.2 L61.3 221.8 L57.3 225.4" fill="none" stroke="#111" stroke-width="2.1"/>
<g id="wm">
<g filter="url(#wsh)" opacity="0.92">
<g transform="translate(1.4,1.5)"><path d="M875.60 640.74 A29.6 29.6 0 1 1 860.80 640.74 L861.60 646.53 A23.8 23.8 0 1 0 874.80 646.53 Z" fill="#0b0b12" stroke="#0b0b12" stroke-width="1.0"/><rect x="865.0" y="651.4" width="6.0" height="6" rx="1.2" fill="#0b0b12" stroke="#0b0b12" stroke-width="1.0"/><rect x="865.6" y="680.5" width="6.4" height="13" fill="#0b0b12" stroke="#0b0b12" stroke-width="1.0"/><text transform="translate(850.38,682.90) scale(1.227,0.953)" font-size="54.0" fill="#0b0b12" stroke="#0b0b12" stroke-width="0.6">e</text></g>
<text transform="translate(906.25,682.70) scale(1.065,1)" font-size="47.0" fill="#0b0b12" stroke="#0b0b12" stroke-width="0.9">i</text>
<text transform="translate(918.92,682.70) scale(1.143,1)" font-size="47.0" fill="#0b0b12" stroke="#0b0b12" stroke-width="0.9">e</text>
<text transform="translate(949.97,682.70) scale(1.115,1)" font-size="47.0" fill="#0b0b12" stroke="#0b0b12" stroke-width="0.9">c</text>
<text transform="translate(976.94,682.70) scale(1.248,1)" font-size="47.0" fill="#0b0b12" stroke="#0b0b12" stroke-width="0.9">o</text>
<text transform="translate(1007.96,682.70) scale(1.197,1)" font-size="47.0" fill="#0b0b12" stroke="#0b0b12" stroke-width="0.9">n</text>
<text transform="translate(1037.74,682.70) scale(1.248,1)" font-size="47.0" fill="#0b0b12" stroke="#0b0b12" stroke-width="0.9">o</text>
<text transform="translate(1069.27,682.70) scale(1.002,1)" font-size="47.0" fill="#0b0b12" stroke="#0b0b12" stroke-width="0.9">m</text>
<text transform="translate(1108.27,682.70) scale(1.151,1)" font-size="47.0" fill="#0b0b12" stroke="#0b0b12" stroke-width="0.9">y</text>
<text transform="translate(1135.14,682.70) scale(0.760,1)" font-size="47.0" fill="#0b0b12" stroke="#0b0b12" stroke-width="0.9">.</text>
<text transform="translate(1147.44,682.70) scale(0.847,1)" font-size="47.0" fill="#0b0b12" stroke="#0b0b12" stroke-width="0.9">i</text>
<text transform="translate(1156.82,682.70) scale(1.208,1)" font-size="47.0" fill="#0b0b12" stroke="#0b0b12" stroke-width="0.9">o</text>
</g>
<path d="M875.60 640.74 A29.6 29.6 0 1 1 860.80 640.74 L861.60 646.53 A23.8 23.8 0 1 0 874.80 646.53 Z" fill="#8f9bc4" stroke="#8f9bc4" stroke-width="1.4" stroke-linejoin="round"/><rect x="865.0" y="651.4" width="6.0" height="6" rx="1.2" fill="#8f9bc4" stroke="#8f9bc4" stroke-width="1.4" stroke-linejoin="round"/><rect x="865.6" y="680.5" width="6.4" height="13" fill="#8f9bc4" stroke="#8f9bc4" stroke-width="1.4" stroke-linejoin="round"/>
<text transform="translate(850.38,682.90) scale(1.227,0.953)" font-size="54.0" fill="#8f9bc4" stroke="#8f9bc4" stroke-width="1.0" stroke-linejoin="round">e</text>
<text transform="translate(850.38,682.90) scale(1.227,0.953)" font-size="54.0" fill="#f5f6fa">e</text>
<text transform="translate(850.38,682.90) scale(1.227,0.953)" font-size="54.0" fill="none" stroke="#8f9bc4" stroke-width="1.0" stroke-linejoin="round">e</text>
<path d="M875.60 640.74 A29.6 29.6 0 1 1 860.80 640.74 L861.60 646.53 A23.8 23.8 0 1 0 874.80 646.53 Z" fill="#f5f6fa"/><rect x="865.0" y="651.4" width="6.0" height="6" rx="1.2" fill="#f5f6fa"/><rect x="865.6" y="680.5" width="6.4" height="13" fill="#f5f6fa"/>
<text transform="translate(904.85,681.20) scale(1.065,1)" font-size="47.0" fill="url(#wg)">i</text>
<text transform="translate(917.52,681.20) scale(1.143,1)" font-size="47.0" fill="url(#wg)">e</text>
<text transform="translate(948.57,681.20) scale(1.115,1)" font-size="47.0" fill="url(#wg)">c</text>
<text transform="translate(975.54,681.20) scale(1.248,1)" font-size="47.0" fill="url(#wg)">o</text>
<text transform="translate(1006.56,681.20) scale(1.197,1)" font-size="47.0" fill="url(#wg)">n</text>
<text transform="translate(1036.34,681.20) scale(1.248,1)" font-size="47.0" fill="url(#wg)">o</text>
<text transform="translate(1067.87,681.20) scale(1.002,1)" font-size="47.0" fill="url(#wg)">m</text>
<text transform="translate(1106.87,681.20) scale(1.151,1)" font-size="47.0" fill="url(#wg)">y</text>
<text transform="translate(1133.74,681.20) scale(0.760,1)" font-size="47.0" fill="url(#wg)">.</text>
<text transform="translate(1146.04,681.20) scale(0.847,1)" font-size="47.0" fill="url(#wg)">i</text>
<text transform="translate(1155.42,681.20) scale(1.208,1)" font-size="47.0" fill="url(#wg)">o</text>
<text transform="translate(904.85,681.20) scale(1.065,1)" font-size="47.0" fill="none" stroke="#8f9bc4" stroke-width="1.1" stroke-linejoin="round">i</text>
<text transform="translate(917.52,681.20) scale(1.143,1)" font-size="47.0" fill="none" stroke="#8f9bc4" stroke-width="1.1" stroke-linejoin="round">e</text>
<text transform="translate(948.57,681.20) scale(1.115,1)" font-size="47.0" fill="none" stroke="#8f9bc4" stroke-width="1.1" stroke-linejoin="round">c</text>
<text transform="translate(975.54,681.20) scale(1.248,1)" font-size="47.0" fill="none" stroke="#8f9bc4" stroke-width="1.1" stroke-linejoin="round">o</text>
<text transform="translate(1006.56,681.20) scale(1.197,1)" font-size="47.0" fill="none" stroke="#8f9bc4" stroke-width="1.1" stroke-linejoin="round">n</text>
<text transform="translate(1036.34,681.20) scale(1.248,1)" font-size="47.0" fill="none" stroke="#8f9bc4" stroke-width="1.1" stroke-linejoin="round">o</text>
<text transform="translate(1067.87,681.20) scale(1.002,1)" font-size="47.0" fill="none" stroke="#8f9bc4" stroke-width="1.1" stroke-linejoin="round">m</text>
<text transform="translate(1106.87,681.20) scale(1.151,1)" font-size="47.0" fill="none" stroke="#8f9bc4" stroke-width="1.1" stroke-linejoin="round">y</text>
<text transform="translate(1133.74,681.20) scale(0.760,1)" font-size="47.0" fill="none" stroke="#8f9bc4" stroke-width="1.1" stroke-linejoin="round">.</text>
<text transform="translate(1146.04,681.20) scale(0.847,1)" font-size="47.0" fill="none" stroke="#8f9bc4" stroke-width="1.1" stroke-linejoin="round">i</text>
<text transform="translate(1155.42,681.20) scale(1.208,1)" font-size="47.0" fill="none" stroke="#8f9bc4" stroke-width="1.1" stroke-linejoin="round">o</text>
<rect x="863.7" y="638.3" width="8.6" height="7.8" rx="1" fill="#d99a10" stroke="#5a4a20" stroke-width="0.8"/>
<path d="M866 644.5 L870.5 640 L870.5 642.5 L867.5 645 Z" fill="#ffe36a"/>
</g>
</svg></body></html>
